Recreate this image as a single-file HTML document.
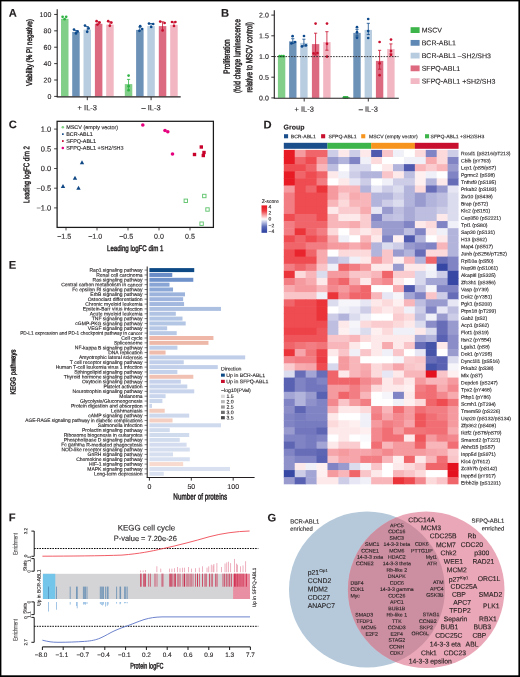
<!DOCTYPE html>
<html><head><meta charset="utf-8"><title>Figure</title>
<style>
html,body{margin:0;padding:0;background:#fff;}
svg{display:block;will-change:transform;}
text{font-family:"Liberation Sans", sans-serif;fill:#231f20;text-rendering:geometricPrecision;stroke:#231f20;stroke-width:0.12px;}
</style></head>
<body>
<svg width="520" height="677" viewBox="0 0 520 677">
<rect x="0" y="0" width="520" height="677" fill="#fff"/>
<text x="8.80" y="16.80" font-size="11.2" text-anchor="start" font-weight="bold" fill="#000" transform="matrix(1 0.001 0 1 0 -0.0088)">A</text>
<rect x="61.00" y="18.80" width="7.50" height="77.60" fill="#82cf89"/>
<rect x="72.20" y="31.90" width="7.50" height="64.50" fill="#6d92b8"/>
<rect x="83.50" y="29.60" width="7.50" height="66.80" fill="#b8cde0"/>
<rect x="94.90" y="23.80" width="7.50" height="72.60" fill="#dc6a80"/>
<rect x="106.20" y="24.60" width="7.50" height="71.80" fill="#f1b6c2"/>
<rect x="124.80" y="84.10" width="7.50" height="12.30" fill="#82cf89"/>
<rect x="136.10" y="29.90" width="7.50" height="66.50" fill="#6d92b8"/>
<rect x="147.30" y="26.10" width="7.50" height="70.30" fill="#b8cde0"/>
<rect x="158.80" y="26.10" width="7.50" height="70.30" fill="#dc6a80"/>
<rect x="170.20" y="24.80" width="7.50" height="71.60" fill="#f1b6c2"/>
<line x1="75.95" y1="30.50" x2="75.95" y2="33.50" stroke="#0d4a8c" stroke-width="0.8"/>
<line x1="74.35" y1="30.50" x2="77.55" y2="30.50" stroke="#0d4a8c" stroke-width="0.8"/>
<line x1="87.25" y1="26.50" x2="87.25" y2="32.00" stroke="#0d4a8c" stroke-width="0.8"/>
<line x1="85.65" y1="26.50" x2="88.85" y2="26.50" stroke="#0d4a8c" stroke-width="0.8"/>
<line x1="98.65" y1="21.80" x2="98.65" y2="25.00" stroke="#c8102e" stroke-width="0.8"/>
<line x1="97.05" y1="21.80" x2="100.25" y2="21.80" stroke="#c8102e" stroke-width="0.8"/>
<line x1="109.95" y1="21.80" x2="109.95" y2="26.00" stroke="#c8102e" stroke-width="0.8"/>
<line x1="108.35" y1="21.80" x2="111.55" y2="21.80" stroke="#c8102e" stroke-width="0.8"/>
<line x1="128.55" y1="79.40" x2="128.55" y2="89.50" stroke="#2fb344" stroke-width="0.8"/>
<line x1="126.95" y1="79.40" x2="130.15" y2="79.40" stroke="#2fb344" stroke-width="0.8"/>
<line x1="139.85" y1="27.00" x2="139.85" y2="31.50" stroke="#0d4a8c" stroke-width="0.8"/>
<line x1="138.25" y1="27.00" x2="141.45" y2="27.00" stroke="#0d4a8c" stroke-width="0.8"/>
<line x1="151.05" y1="23.50" x2="151.05" y2="27.50" stroke="#0d4a8c" stroke-width="0.8"/>
<line x1="149.45" y1="23.50" x2="152.65" y2="23.50" stroke="#0d4a8c" stroke-width="0.8"/>
<line x1="162.55" y1="21.80" x2="162.55" y2="29.50" stroke="#c8102e" stroke-width="0.8"/>
<line x1="160.95" y1="21.80" x2="164.15" y2="21.80" stroke="#c8102e" stroke-width="0.8"/>
<line x1="173.95" y1="22.00" x2="173.95" y2="26.00" stroke="#c8102e" stroke-width="0.8"/>
<line x1="172.35" y1="22.00" x2="175.55" y2="22.00" stroke="#c8102e" stroke-width="0.8"/>
<circle cx="62.60" cy="16.80" r="1.35" fill="#2fb344"/>
<circle cx="66.20" cy="16.80" r="1.35" fill="#2fb344"/>
<circle cx="64.60" cy="19.20" r="1.35" fill="#2fb344"/>
<circle cx="74.00" cy="29.60" r="1.35" fill="#0d4a8c"/>
<circle cx="77.60" cy="31.40" r="1.35" fill="#0d4a8c"/>
<circle cx="76.00" cy="33.40" r="1.35" fill="#0d4a8c"/>
<circle cx="85.00" cy="25.60" r="1.35" fill="#0d4a8c"/>
<circle cx="88.60" cy="28.40" r="1.35" fill="#0d4a8c"/>
<circle cx="87.20" cy="31.80" r="1.35" fill="#0d4a8c"/>
<circle cx="96.60" cy="21.20" r="1.35" fill="#c8102e"/>
<circle cx="99.60" cy="22.60" r="1.35" fill="#c8102e"/>
<circle cx="97.40" cy="24.60" r="1.35" fill="#c8102e"/>
<circle cx="108.20" cy="21.20" r="1.35" fill="#c8102e"/>
<circle cx="111.40" cy="22.60" r="1.35" fill="#c8102e"/>
<circle cx="109.80" cy="25.80" r="1.35" fill="#c8102e"/>
<circle cx="128.60" cy="75.60" r="1.35" fill="#2fb344"/>
<circle cx="128.60" cy="86.20" r="1.35" fill="#2fb344"/>
<circle cx="128.60" cy="90.20" r="1.35" fill="#2fb344"/>
<circle cx="139.40" cy="30.80" r="1.35" fill="#0d4a8c"/>
<circle cx="142.20" cy="29.00" r="1.35" fill="#0d4a8c"/>
<circle cx="140.20" cy="26.20" r="1.35" fill="#0d4a8c"/>
<circle cx="149.00" cy="23.60" r="1.35" fill="#0d4a8c"/>
<circle cx="153.20" cy="24.00" r="1.35" fill="#0d4a8c"/>
<circle cx="151.20" cy="27.00" r="1.35" fill="#0d4a8c"/>
<circle cx="160.20" cy="21.60" r="1.35" fill="#c8102e"/>
<circle cx="164.60" cy="23.00" r="1.35" fill="#c8102e"/>
<circle cx="162.60" cy="30.40" r="1.35" fill="#c8102e"/>
<circle cx="172.00" cy="22.00" r="1.35" fill="#c8102e"/>
<circle cx="175.40" cy="22.00" r="1.35" fill="#c8102e"/>
<circle cx="174.00" cy="26.00" r="1.35" fill="#c8102e"/>
<line x1="57.20" y1="9.20" x2="57.20" y2="96.90" stroke="#231f20" stroke-width="1.1"/>
<line x1="56.70" y1="96.90" x2="180.70" y2="96.90" stroke="#231f20" stroke-width="1.1"/>
<line x1="54.20" y1="96.40" x2="57.20" y2="96.40" stroke="#231f20" stroke-width="0.9"/>
<text x="51.30" y="98.90" font-size="7" text-anchor="end" transform="matrix(1 0.001 0 1 0 -0.0513)">0</text>
<line x1="54.20" y1="80.01" x2="57.20" y2="80.01" stroke="#231f20" stroke-width="0.9"/>
<text x="51.30" y="82.51" font-size="7" text-anchor="end" transform="matrix(1 0.001 0 1 0 -0.0513)">20</text>
<line x1="54.20" y1="63.62" x2="57.20" y2="63.62" stroke="#231f20" stroke-width="0.9"/>
<text x="51.30" y="66.12" font-size="7" text-anchor="end" transform="matrix(1 0.001 0 1 0 -0.0513)">40</text>
<line x1="54.20" y1="47.23" x2="57.20" y2="47.23" stroke="#231f20" stroke-width="0.9"/>
<text x="51.30" y="49.73" font-size="7" text-anchor="end" transform="matrix(1 0.001 0 1 0 -0.0513)">60</text>
<line x1="54.20" y1="30.84" x2="57.20" y2="30.84" stroke="#231f20" stroke-width="0.9"/>
<text x="51.30" y="33.34" font-size="7" text-anchor="end" transform="matrix(1 0.001 0 1 0 -0.0513)">80</text>
<line x1="54.20" y1="14.45" x2="57.20" y2="14.45" stroke="#231f20" stroke-width="0.9"/>
<text x="51.30" y="16.95" font-size="7" text-anchor="end" transform="matrix(1 0.001 0 1 0 -0.0513)">100</text>
<line x1="87.30" y1="96.90" x2="87.30" y2="100.20" stroke="#231f20" stroke-width="0.9"/>
<text x="87.30" y="110.30" font-size="7.5" text-anchor="middle" transform="matrix(1 0.001 0 1 0 -0.0873)">+ IL-3</text>
<line x1="151.10" y1="96.90" x2="151.10" y2="100.20" stroke="#231f20" stroke-width="0.9"/>
<text x="151.10" y="110.30" font-size="7.5" text-anchor="middle" transform="matrix(1 0.001 0 1 0 -0.1511)">– IL-3</text>
<text x="32.10" y="52.50" font-size="8.2" text-anchor="middle" style="stroke-width:0.45px" textLength="66.90" lengthAdjust="spacingAndGlyphs" transform="rotate(-90 32.10 52.50) matrix(1 0.001 0 1 0 -0.0321)">Viability (% PI negative)</text>
<text x="221.00" y="16.80" font-size="11.2" text-anchor="start" font-weight="bold" fill="#000" transform="matrix(1 0.001 0 1 0 -0.2210)">B</text>
<rect x="277.90" y="55.90" width="7.40" height="42.00" fill="#82cf89"/>
<rect x="289.10" y="41.30" width="7.40" height="56.60" fill="#6d92b8"/>
<rect x="300.20" y="42.90" width="7.40" height="55.00" fill="#b8cde0"/>
<rect x="311.90" y="44.10" width="7.40" height="53.80" fill="#dc6a80"/>
<rect x="323.20" y="42.10" width="7.40" height="55.80" fill="#f1b6c2"/>
<rect x="342.70" y="97.00" width="7.40" height="0.90" fill="#82cf89"/>
<rect x="353.30" y="32.90" width="7.40" height="65.00" fill="#6d92b8"/>
<rect x="364.60" y="29.90" width="7.40" height="68.00" fill="#b8cde0"/>
<rect x="375.90" y="60.90" width="7.40" height="37.00" fill="#dc6a80"/>
<rect x="387.20" y="49.00" width="7.40" height="48.90" fill="#f1b6c2"/>
<line x1="292.80" y1="38.70" x2="292.80" y2="43.50" stroke="#0d4a8c" stroke-width="0.8"/>
<line x1="291.20" y1="38.70" x2="294.40" y2="38.70" stroke="#0d4a8c" stroke-width="0.8"/>
<line x1="291.20" y1="43.50" x2="294.40" y2="43.50" stroke="#0d4a8c" stroke-width="0.8"/>
<line x1="303.90" y1="39.20" x2="303.90" y2="46.00" stroke="#0d4a8c" stroke-width="0.8"/>
<line x1="302.30" y1="39.20" x2="305.50" y2="39.20" stroke="#0d4a8c" stroke-width="0.8"/>
<line x1="302.30" y1="46.00" x2="305.50" y2="46.00" stroke="#0d4a8c" stroke-width="0.8"/>
<line x1="315.60" y1="33.20" x2="315.60" y2="55.00" stroke="#c8102e" stroke-width="0.8"/>
<line x1="314.00" y1="33.20" x2="317.20" y2="33.20" stroke="#c8102e" stroke-width="0.8"/>
<line x1="314.00" y1="55.00" x2="317.20" y2="55.00" stroke="#c8102e" stroke-width="0.8"/>
<line x1="326.90" y1="31.70" x2="326.90" y2="50.20" stroke="#c8102e" stroke-width="0.8"/>
<line x1="325.30" y1="31.70" x2="328.50" y2="31.70" stroke="#c8102e" stroke-width="0.8"/>
<line x1="325.30" y1="50.20" x2="328.50" y2="50.20" stroke="#c8102e" stroke-width="0.8"/>
<line x1="357.00" y1="29.30" x2="357.00" y2="36.00" stroke="#0d4a8c" stroke-width="0.8"/>
<line x1="355.40" y1="29.30" x2="358.60" y2="29.30" stroke="#0d4a8c" stroke-width="0.8"/>
<line x1="355.40" y1="36.00" x2="358.60" y2="36.00" stroke="#0d4a8c" stroke-width="0.8"/>
<line x1="368.30" y1="23.30" x2="368.30" y2="34.60" stroke="#0d4a8c" stroke-width="0.8"/>
<line x1="366.70" y1="23.30" x2="369.90" y2="23.30" stroke="#0d4a8c" stroke-width="0.8"/>
<line x1="366.70" y1="34.60" x2="369.90" y2="34.60" stroke="#0d4a8c" stroke-width="0.8"/>
<line x1="379.60" y1="50.30" x2="379.60" y2="69.20" stroke="#c8102e" stroke-width="0.8"/>
<line x1="378.00" y1="50.30" x2="381.20" y2="50.30" stroke="#c8102e" stroke-width="0.8"/>
<line x1="378.00" y1="69.20" x2="381.20" y2="69.20" stroke="#c8102e" stroke-width="0.8"/>
<line x1="390.90" y1="43.90" x2="390.90" y2="53.90" stroke="#c8102e" stroke-width="0.8"/>
<line x1="389.30" y1="43.90" x2="392.50" y2="43.90" stroke="#c8102e" stroke-width="0.8"/>
<line x1="389.30" y1="53.90" x2="392.50" y2="53.90" stroke="#c8102e" stroke-width="0.8"/>
<circle cx="279.60" cy="56.20" r="1.35" fill="#2fb344"/>
<circle cx="281.60" cy="56.20" r="1.35" fill="#2fb344"/>
<circle cx="283.60" cy="56.20" r="1.35" fill="#2fb344"/>
<circle cx="292.60" cy="36.20" r="1.35" fill="#0d4a8c"/>
<circle cx="291.40" cy="43.40" r="1.35" fill="#0d4a8c"/>
<circle cx="295.00" cy="42.00" r="1.35" fill="#0d4a8c"/>
<circle cx="304.00" cy="36.00" r="1.35" fill="#0d4a8c"/>
<circle cx="302.00" cy="46.40" r="1.35" fill="#0d4a8c"/>
<circle cx="306.00" cy="45.40" r="1.35" fill="#0d4a8c"/>
<circle cx="315.60" cy="23.60" r="1.35" fill="#c8102e"/>
<circle cx="313.60" cy="53.40" r="1.35" fill="#c8102e"/>
<circle cx="317.40" cy="53.00" r="1.35" fill="#c8102e"/>
<circle cx="327.00" cy="23.60" r="1.35" fill="#c8102e"/>
<circle cx="327.00" cy="43.80" r="1.35" fill="#c8102e"/>
<circle cx="327.00" cy="56.60" r="1.35" fill="#c8102e"/>
<circle cx="344.00" cy="97.30" r="1.35" fill="#2fb344"/>
<circle cx="345.60" cy="97.30" r="1.35" fill="#2fb344"/>
<circle cx="347.20" cy="97.30" r="1.35" fill="#2fb344"/>
<circle cx="357.00" cy="27.20" r="1.35" fill="#0d4a8c"/>
<circle cx="357.00" cy="32.20" r="1.35" fill="#0d4a8c"/>
<circle cx="357.00" cy="37.80" r="1.35" fill="#0d4a8c"/>
<circle cx="368.20" cy="19.00" r="1.35" fill="#0d4a8c"/>
<circle cx="368.20" cy="31.00" r="1.35" fill="#0d4a8c"/>
<circle cx="368.20" cy="38.00" r="1.35" fill="#0d4a8c"/>
<circle cx="379.60" cy="42.00" r="1.35" fill="#c8102e"/>
<circle cx="379.60" cy="63.40" r="1.35" fill="#c8102e"/>
<circle cx="379.60" cy="75.20" r="1.35" fill="#c8102e"/>
<circle cx="391.00" cy="39.60" r="1.35" fill="#c8102e"/>
<circle cx="391.00" cy="51.00" r="1.35" fill="#c8102e"/>
<circle cx="391.00" cy="55.00" r="1.35" fill="#c8102e"/>
<line x1="274.30" y1="56.60" x2="398.50" y2="56.60" stroke="#231f20" stroke-width="0.9" stroke-dasharray="1.6 1.2"/>
<line x1="274.30" y1="10.20" x2="274.30" y2="98.20" stroke="#231f20" stroke-width="1.1"/>
<line x1="273.80" y1="98.20" x2="398.80" y2="98.20" stroke="#231f20" stroke-width="1.1"/>
<line x1="271.30" y1="97.90" x2="274.30" y2="97.90" stroke="#231f20" stroke-width="0.9"/>
<text x="268.80" y="100.40" font-size="7" text-anchor="end" transform="matrix(1 0.001 0 1 0 -0.2688)">0.0</text>
<line x1="271.30" y1="77.20" x2="274.30" y2="77.20" stroke="#231f20" stroke-width="0.9"/>
<text x="268.80" y="79.70" font-size="7" text-anchor="end" transform="matrix(1 0.001 0 1 0 -0.2688)">0.5</text>
<line x1="271.30" y1="56.50" x2="274.30" y2="56.50" stroke="#231f20" stroke-width="0.9"/>
<text x="268.80" y="59.00" font-size="7" text-anchor="end" transform="matrix(1 0.001 0 1 0 -0.2688)">1.0</text>
<line x1="271.30" y1="35.80" x2="274.30" y2="35.80" stroke="#231f20" stroke-width="0.9"/>
<text x="268.80" y="38.30" font-size="7" text-anchor="end" transform="matrix(1 0.001 0 1 0 -0.2688)">1.5</text>
<line x1="271.30" y1="15.10" x2="274.30" y2="15.10" stroke="#231f20" stroke-width="0.9"/>
<text x="268.80" y="17.60" font-size="7" text-anchor="end" transform="matrix(1 0.001 0 1 0 -0.2688)">2.0</text>
<line x1="304.20" y1="98.20" x2="304.20" y2="101.50" stroke="#231f20" stroke-width="0.9"/>
<text x="304.20" y="111.70" font-size="7.5" text-anchor="middle" transform="matrix(1 0.001 0 1 0 -0.3042)">+ IL-3</text>
<line x1="368.30" y1="98.20" x2="368.30" y2="101.50" stroke="#231f20" stroke-width="0.9"/>
<text x="368.30" y="111.70" font-size="7.5" text-anchor="middle" transform="matrix(1 0.001 0 1 0 -0.3683)">– IL-3</text>
<text x="229.80" y="56.50" font-size="9.0" text-anchor="middle" style="stroke-width:0.45px" textLength="34.30" lengthAdjust="spacingAndGlyphs" transform="rotate(-90 229.80 56.50) matrix(1 0.001 0 1 0 -0.2298)">Proliferation</text>
<text x="240.30" y="56.10" font-size="9.0" text-anchor="middle" style="stroke-width:0.45px" textLength="74.00" lengthAdjust="spacingAndGlyphs" transform="rotate(-90 240.30 56.10) matrix(1 0.001 0 1 0 -0.2403)">(fold change luminescence</text>
<text x="252.20" y="57.30" font-size="9.0" text-anchor="middle" style="stroke-width:0.45px" textLength="70.40" lengthAdjust="spacingAndGlyphs" transform="rotate(-90 252.20 57.30) matrix(1 0.001 0 1 0 -0.2522)">relative to MSCV control)</text>
<rect x="410.60" y="27.20" width="9.00" height="5.80" fill="#3db54a"/>
<text x="421.70" y="32.60" font-size="7.0" text-anchor="start" transform="matrix(1 0.001 0 1 0 -0.4217)">MSCV</text>
<rect x="410.60" y="39.95" width="9.00" height="5.80" fill="#5f89b4"/>
<text x="421.70" y="45.35" font-size="7.0" text-anchor="start" transform="matrix(1 0.001 0 1 0 -0.4217)">BCR-ABL1</text>
<rect x="410.60" y="52.70" width="9.00" height="5.80" fill="#b8cce0"/>
<text x="421.70" y="58.10" font-size="7.0" text-anchor="start" transform="matrix(1 0.001 0 1 0 -0.4217)">BCR-ABL1 –SH2/SH3</text>
<rect x="410.60" y="65.45" width="9.00" height="5.80" fill="#de6a80"/>
<text x="421.70" y="70.85" font-size="7.0" text-anchor="start" transform="matrix(1 0.001 0 1 0 -0.4217)">SFPQ-ABL1</text>
<rect x="410.60" y="78.20" width="9.00" height="5.80" fill="#f2b8c4"/>
<text x="421.70" y="83.60" font-size="7.0" text-anchor="start" transform="matrix(1 0.001 0 1 0 -0.4217)">SFPQ-ABL1 +SH2/SH3</text>
<text x="8.80" y="128.20" font-size="11.2" text-anchor="start" font-weight="bold" fill="#000" transform="matrix(1 0.001 0 1 0 -0.0088)">C</text>
<rect x="57.1" y="121.3" width="156.30" height="106.10" fill="none" stroke="#1a1a1a" stroke-width="1.25"/>
<line x1="54.10" y1="129.10" x2="57.10" y2="129.10" stroke="#231f20" stroke-width="0.8"/>
<text x="51.20" y="131.70" font-size="7.5" text-anchor="end" transform="matrix(1 0.001 0 1 0 -0.0512)">1.0</text>
<line x1="54.10" y1="148.80" x2="57.10" y2="148.80" stroke="#231f20" stroke-width="0.8"/>
<text x="51.20" y="151.40" font-size="7.5" text-anchor="end" transform="matrix(1 0.001 0 1 0 -0.0512)">0.5</text>
<line x1="54.10" y1="168.50" x2="57.10" y2="168.50" stroke="#231f20" stroke-width="0.8"/>
<text x="51.20" y="171.10" font-size="7.5" text-anchor="end" transform="matrix(1 0.001 0 1 0 -0.0512)">0.0</text>
<line x1="54.10" y1="188.20" x2="57.10" y2="188.20" stroke="#231f20" stroke-width="0.8"/>
<text x="51.20" y="190.80" font-size="7.5" text-anchor="end" transform="matrix(1 0.001 0 1 0 -0.0512)">−0.5</text>
<line x1="54.10" y1="207.90" x2="57.10" y2="207.90" stroke="#231f20" stroke-width="0.8"/>
<text x="51.20" y="210.50" font-size="7.5" text-anchor="end" transform="matrix(1 0.001 0 1 0 -0.0512)">−1.0</text>
<line x1="66.00" y1="227.40" x2="66.00" y2="230.40" stroke="#231f20" stroke-width="0.8"/>
<text x="64.20" y="238.80" font-size="7.1" text-anchor="middle" transform="matrix(1 0.001 0 1 0 -0.0642)">−1.5</text>
<line x1="97.00" y1="227.40" x2="97.00" y2="230.40" stroke="#231f20" stroke-width="0.8"/>
<text x="95.20" y="238.80" font-size="7.1" text-anchor="middle" transform="matrix(1 0.001 0 1 0 -0.0952)">−1.0</text>
<line x1="128.00" y1="227.40" x2="128.00" y2="230.40" stroke="#231f20" stroke-width="0.8"/>
<text x="126.20" y="238.80" font-size="7.1" text-anchor="middle" transform="matrix(1 0.001 0 1 0 -0.1262)">−0.5</text>
<line x1="159.00" y1="227.40" x2="159.00" y2="230.40" stroke="#231f20" stroke-width="0.8"/>
<text x="159.00" y="238.80" font-size="7.1" text-anchor="middle" transform="matrix(1 0.001 0 1 0 -0.1590)">0.0</text>
<line x1="190.00" y1="227.40" x2="190.00" y2="230.40" stroke="#231f20" stroke-width="0.8"/>
<text x="190.00" y="238.80" font-size="7.1" text-anchor="middle" transform="matrix(1 0.001 0 1 0 -0.1900)">0.5</text>
<text x="135.20" y="251.10" font-size="8.1" text-anchor="middle" style="stroke-width:0.45px" textLength="56.30" lengthAdjust="spacingAndGlyphs" transform="matrix(1 0.001 0 1 0 -0.1352)">Leading logFC dim 1</text>
<text x="29.30" y="174.50" font-size="8.2" text-anchor="middle" style="stroke-width:0.4px" textLength="56.90" lengthAdjust="spacingAndGlyphs" transform="rotate(-90 29.30 174.50) matrix(1 0.001 0 1 0 -0.0293)">Leading logFC dim 2</text>
<circle cx="62.80" cy="127.20" r="1.25" fill="#7ccf7f"/>
<text x="66.20" y="129.10" font-size="5.45" text-anchor="start" style="stroke-width:0.12px" transform="matrix(1 0.001 0 1 0 -0.0662)">MSCV (empty vector)</text>
<rect x="62.00" y="133.30" width="1.70" height="1.70" fill="#1a4f8b"/>
<text x="66.20" y="136.00" font-size="5.45" text-anchor="start" style="stroke-width:0.12px" transform="matrix(1 0.001 0 1 0 -0.0662)">BCR-ABL1</text>
<rect x="62.00" y="140.20" width="1.70" height="1.70" fill="#c00025"/>
<text x="66.20" y="142.90" font-size="5.45" text-anchor="start" style="stroke-width:0.12px" transform="matrix(1 0.001 0 1 0 -0.0662)">SFPQ-ABL1</text>
<circle cx="62.80" cy="147.90" r="1.25" fill="#e6007e"/>
<text x="66.20" y="149.80" font-size="5.45" text-anchor="start" style="stroke-width:0.12px" transform="matrix(1 0.001 0 1 0 -0.0662)">SFPQ-ABL1 +SH2/SH3</text>
<polygon points="82.00,160.22 79.80,164.18 84.20,164.18" fill="#0f4785"/>
<polygon points="75.00,175.82 72.80,179.78 77.20,179.78" fill="#0f4785"/>
<polygon points="63.00,183.92 60.80,187.88 65.20,187.88" fill="#0f4785"/>
<polygon points="78.50,185.72 76.30,189.68 80.70,189.68" fill="#0f4785"/>
<rect x="199.60" y="145.30" width="3.40" height="3.40" fill="#c8002a"/>
<rect x="192.80" y="152.80" width="3.40" height="3.40" fill="#c8002a"/>
<rect x="202.30" y="150.80" width="3.40" height="3.40" fill="#c8002a"/>
<rect x="201.60" y="153.80" width="3.40" height="3.40" fill="#c8002a"/>
<circle cx="142.80" cy="125.00" r="1.80" fill="#e6007e"/>
<circle cx="165.00" cy="130.50" r="1.80" fill="#e6007e"/>
<circle cx="167.80" cy="131.80" r="1.80" fill="#e6007e"/>
<circle cx="172.50" cy="154.00" r="1.80" fill="#e6007e"/>
<rect x="184.10" y="199.10" width="3.4" height="3.4" fill="none" stroke="#62c46f" stroke-width="0.95"/>
<rect x="202.60" y="194.30" width="3.4" height="3.4" fill="none" stroke="#62c46f" stroke-width="0.95"/>
<rect x="205.80" y="207.80" width="3.4" height="3.4" fill="none" stroke="#62c46f" stroke-width="0.95"/>
<rect x="199.90" y="222.00" width="3.4" height="3.4" fill="none" stroke="#62c46f" stroke-width="0.95"/>
<text x="263.60" y="128.60" font-size="11.2" text-anchor="start" font-weight="bold" fill="#000" transform="matrix(1 0.001 0 1 0 -0.2636)">D</text>
<text x="283.60" y="129.60" font-size="7.0" text-anchor="start" font-weight="bold" fill="#000" transform="matrix(1 0.001 0 1 0 -0.2836)">Group</text>
<rect x="284.00" y="134.20" width="4.10" height="4.10" fill="#1b4f8c"/>
<text x="290.80" y="138.20" font-size="5.1" text-anchor="start" style="stroke-width:0.12px" transform="matrix(1 0.001 0 1 0 -0.2908)">BCR-ABL1</text>
<rect x="321.10" y="134.20" width="4.10" height="4.10" fill="#c8102e"/>
<text x="328.50" y="138.20" font-size="5.1" text-anchor="start" style="stroke-width:0.12px" transform="matrix(1 0.001 0 1 0 -0.3285)">SFPQ-ABL1</text>
<rect x="361.20" y="134.20" width="4.10" height="4.10" fill="#f7941d"/>
<text x="368.90" y="138.20" font-size="5.1" text-anchor="start" style="stroke-width:0.12px" transform="matrix(1 0.001 0 1 0 -0.3689)">MSCV (empty vector)</text>
<rect x="425.00" y="134.20" width="4.10" height="4.10" fill="#3db54a"/>
<text x="430.60" y="138.20" font-size="5.1" text-anchor="start" style="stroke-width:0.12px" transform="matrix(1 0.001 0 1 0 -0.4306)">SFPQ-ABL1 +SH2/SH3</text>
<rect x="283.80" y="142.80" width="43.73" height="6.00" fill="#1b4f8c"/>
<rect x="327.48" y="142.80" width="43.73" height="6.00" fill="#3db54a"/>
<rect x="371.16" y="142.80" width="43.73" height="6.00" fill="#f7941d"/>
<rect x="414.84" y="142.80" width="43.73" height="6.00" fill="#c8102e"/>
<rect x="283.80" y="149.90" width="11.42" height="7.62" fill="#e81a24"/>
<rect x="294.72" y="149.90" width="11.42" height="7.62" fill="#f59a9e"/>
<rect x="305.64" y="149.90" width="11.42" height="7.62" fill="#f0656a"/>
<rect x="316.56" y="149.90" width="11.42" height="7.62" fill="#f0656a"/>
<rect x="327.48" y="149.90" width="11.42" height="7.62" fill="#cdcde8"/>
<rect x="338.40" y="149.90" width="11.42" height="7.62" fill="#fde9ea"/>
<rect x="349.32" y="149.90" width="11.42" height="7.62" fill="#cdcde8"/>
<rect x="360.24" y="149.90" width="11.42" height="7.62" fill="#fde9ea"/>
<rect x="371.16" y="149.90" width="11.42" height="7.62" fill="#4f5aae"/>
<rect x="382.08" y="149.90" width="11.42" height="7.62" fill="#f9c5c8"/>
<rect x="393.00" y="149.90" width="11.42" height="7.62" fill="#f0f0f8"/>
<rect x="403.92" y="149.90" width="11.42" height="7.62" fill="#ffffff"/>
<rect x="414.84" y="149.90" width="11.42" height="7.62" fill="#fcdadc"/>
<rect x="425.76" y="149.90" width="11.42" height="7.62" fill="#8084c4"/>
<rect x="436.68" y="149.90" width="11.42" height="7.62" fill="#fcdadc"/>
<rect x="447.60" y="149.90" width="10.92" height="7.62" fill="#cdcde8"/>
<rect x="283.80" y="157.02" width="11.42" height="7.62" fill="#e81a24"/>
<rect x="294.72" y="157.02" width="11.42" height="7.62" fill="#f0656a"/>
<rect x="305.64" y="157.02" width="11.42" height="7.62" fill="#ee4c51"/>
<rect x="316.56" y="157.02" width="11.42" height="7.62" fill="#f59a9e"/>
<rect x="327.48" y="157.02" width="11.42" height="7.62" fill="#999bcf"/>
<rect x="338.40" y="157.02" width="11.42" height="7.62" fill="#b3b4dc"/>
<rect x="349.32" y="157.02" width="11.42" height="7.62" fill="#8084c4"/>
<rect x="360.24" y="157.02" width="11.42" height="7.62" fill="#f0f0f8"/>
<rect x="371.16" y="157.02" width="11.42" height="7.62" fill="#fcdadc"/>
<rect x="382.08" y="157.02" width="11.42" height="7.62" fill="#ffffff"/>
<rect x="393.00" y="157.02" width="11.42" height="7.62" fill="#ffffff"/>
<rect x="403.92" y="157.02" width="11.42" height="7.62" fill="#f0f0f8"/>
<rect x="414.84" y="157.02" width="11.42" height="7.62" fill="#f0f0f8"/>
<rect x="425.76" y="157.02" width="11.42" height="7.62" fill="#f7abaf"/>
<rect x="436.68" y="157.02" width="11.42" height="7.62" fill="#fcdadc"/>
<rect x="447.60" y="157.02" width="10.92" height="7.62" fill="#8084c4"/>
<rect x="283.80" y="164.13" width="11.42" height="7.62" fill="#ee4c51"/>
<rect x="294.72" y="164.13" width="11.42" height="7.62" fill="#ee4c51"/>
<rect x="305.64" y="164.13" width="11.42" height="7.62" fill="#f0656a"/>
<rect x="316.56" y="164.13" width="11.42" height="7.62" fill="#f8b6ba"/>
<rect x="327.48" y="164.13" width="11.42" height="7.62" fill="#bdbee0"/>
<rect x="338.40" y="164.13" width="11.42" height="7.62" fill="#ffffff"/>
<rect x="349.32" y="164.13" width="11.42" height="7.62" fill="#d7d7ed"/>
<rect x="360.24" y="164.13" width="11.42" height="7.62" fill="#d7d7ed"/>
<rect x="371.16" y="164.13" width="11.42" height="7.62" fill="#ffffff"/>
<rect x="382.08" y="164.13" width="11.42" height="7.62" fill="#fde9ea"/>
<rect x="393.00" y="164.13" width="11.42" height="7.62" fill="#b3b4dc"/>
<rect x="403.92" y="164.13" width="11.42" height="7.62" fill="#4f5aae"/>
<rect x="414.84" y="164.13" width="11.42" height="7.62" fill="#f8b6ba"/>
<rect x="425.76" y="164.13" width="11.42" height="7.62" fill="#facccf"/>
<rect x="436.68" y="164.13" width="11.42" height="7.62" fill="#f8b6ba"/>
<rect x="447.60" y="164.13" width="10.92" height="7.62" fill="#999bcf"/>
<rect x="283.80" y="171.25" width="11.42" height="7.62" fill="#e81a24"/>
<rect x="294.72" y="171.25" width="11.42" height="7.62" fill="#f0656a"/>
<rect x="305.64" y="171.25" width="11.42" height="7.62" fill="#ee4c51"/>
<rect x="316.56" y="171.25" width="11.42" height="7.62" fill="#f0656a"/>
<rect x="327.48" y="171.25" width="11.42" height="7.62" fill="#fde9ea"/>
<rect x="338.40" y="171.25" width="11.42" height="7.62" fill="#f0f0f8"/>
<rect x="349.32" y="171.25" width="11.42" height="7.62" fill="#cdcde8"/>
<rect x="360.24" y="171.25" width="11.42" height="7.62" fill="#b3b4dc"/>
<rect x="371.16" y="171.25" width="11.42" height="7.62" fill="#b3b4dc"/>
<rect x="382.08" y="171.25" width="11.42" height="7.62" fill="#f9c5c8"/>
<rect x="393.00" y="171.25" width="11.42" height="7.62" fill="#fde9ea"/>
<rect x="403.92" y="171.25" width="11.42" height="7.62" fill="#bdbee0"/>
<rect x="414.84" y="171.25" width="11.42" height="7.62" fill="#fef0f1"/>
<rect x="425.76" y="171.25" width="11.42" height="7.62" fill="#f0f0f8"/>
<rect x="436.68" y="171.25" width="11.42" height="7.62" fill="#ffffff"/>
<rect x="447.60" y="171.25" width="10.92" height="7.62" fill="#8084c4"/>
<rect x="283.80" y="178.36" width="11.42" height="7.62" fill="#e81a24"/>
<rect x="294.72" y="178.36" width="11.42" height="7.62" fill="#ee4c51"/>
<rect x="305.64" y="178.36" width="11.42" height="7.62" fill="#ee4c51"/>
<rect x="316.56" y="178.36" width="11.42" height="7.62" fill="#f27e83"/>
<rect x="327.48" y="178.36" width="11.42" height="7.62" fill="#ffffff"/>
<rect x="338.40" y="178.36" width="11.42" height="7.62" fill="#fde9ea"/>
<rect x="349.32" y="178.36" width="11.42" height="7.62" fill="#e6e6f4"/>
<rect x="360.24" y="178.36" width="11.42" height="7.62" fill="#cdcde8"/>
<rect x="371.16" y="178.36" width="11.42" height="7.62" fill="#ffffff"/>
<rect x="382.08" y="178.36" width="11.42" height="7.62" fill="#f0f0f8"/>
<rect x="393.00" y="178.36" width="11.42" height="7.62" fill="#cdcde8"/>
<rect x="403.92" y="178.36" width="11.42" height="7.62" fill="#cdcde8"/>
<rect x="414.84" y="178.36" width="11.42" height="7.62" fill="#fef0f1"/>
<rect x="425.76" y="178.36" width="11.42" height="7.62" fill="#b3b4dc"/>
<rect x="436.68" y="178.36" width="11.42" height="7.62" fill="#fde9ea"/>
<rect x="447.60" y="178.36" width="10.92" height="7.62" fill="#686db8"/>
<rect x="283.80" y="185.48" width="11.42" height="7.62" fill="#f59a9e"/>
<rect x="294.72" y="185.48" width="11.42" height="7.62" fill="#ee4c51"/>
<rect x="305.64" y="185.48" width="11.42" height="7.62" fill="#f0656a"/>
<rect x="316.56" y="185.48" width="11.42" height="7.62" fill="#eb333a"/>
<rect x="327.48" y="185.48" width="11.42" height="7.62" fill="#f59a9e"/>
<rect x="338.40" y="185.48" width="11.42" height="7.62" fill="#f8b6ba"/>
<rect x="349.32" y="185.48" width="11.42" height="7.62" fill="#f8b6ba"/>
<rect x="360.24" y="185.48" width="11.42" height="7.62" fill="#b3b4dc"/>
<rect x="371.16" y="185.48" width="11.42" height="7.62" fill="#e6e6f4"/>
<rect x="382.08" y="185.48" width="11.42" height="7.62" fill="#cdcde8"/>
<rect x="393.00" y="185.48" width="11.42" height="7.62" fill="#dcdcef"/>
<rect x="403.92" y="185.48" width="11.42" height="7.62" fill="#b3b4dc"/>
<rect x="414.84" y="185.48" width="11.42" height="7.62" fill="#fcdadc"/>
<rect x="425.76" y="185.48" width="11.42" height="7.62" fill="#686db8"/>
<rect x="436.68" y="185.48" width="11.42" height="7.62" fill="#999bcf"/>
<rect x="447.60" y="185.48" width="10.92" height="7.62" fill="#e6e6f4"/>
<rect x="283.80" y="192.59" width="11.42" height="7.62" fill="#f27e83"/>
<rect x="294.72" y="192.59" width="11.42" height="7.62" fill="#ee4c51"/>
<rect x="305.64" y="192.59" width="11.42" height="7.62" fill="#ee4c51"/>
<rect x="316.56" y="192.59" width="11.42" height="7.62" fill="#ee4c51"/>
<rect x="327.48" y="192.59" width="11.42" height="7.62" fill="#f59a9e"/>
<rect x="338.40" y="192.59" width="11.42" height="7.62" fill="#facccf"/>
<rect x="349.32" y="192.59" width="11.42" height="7.62" fill="#f7abaf"/>
<rect x="360.24" y="192.59" width="11.42" height="7.62" fill="#f8b6ba"/>
<rect x="371.16" y="192.59" width="11.42" height="7.62" fill="#b3b4dc"/>
<rect x="382.08" y="192.59" width="11.42" height="7.62" fill="#b3b4dc"/>
<rect x="393.00" y="192.59" width="11.42" height="7.62" fill="#cdcde8"/>
<rect x="403.92" y="192.59" width="11.42" height="7.62" fill="#b3b4dc"/>
<rect x="414.84" y="192.59" width="11.42" height="7.62" fill="#999bcf"/>
<rect x="425.76" y="192.59" width="11.42" height="7.62" fill="#b3b4dc"/>
<rect x="436.68" y="192.59" width="11.42" height="7.62" fill="#bdbee0"/>
<rect x="447.60" y="192.59" width="10.92" height="7.62" fill="#dcdcef"/>
<rect x="283.80" y="199.71" width="11.42" height="7.62" fill="#f27e83"/>
<rect x="294.72" y="199.71" width="11.42" height="7.62" fill="#ee4c51"/>
<rect x="305.64" y="199.71" width="11.42" height="7.62" fill="#ee4c51"/>
<rect x="316.56" y="199.71" width="11.42" height="7.62" fill="#ee4c51"/>
<rect x="327.48" y="199.71" width="11.42" height="7.62" fill="#f8b6ba"/>
<rect x="338.40" y="199.71" width="11.42" height="7.62" fill="#fcdadc"/>
<rect x="349.32" y="199.71" width="11.42" height="7.62" fill="#f8b6ba"/>
<rect x="360.24" y="199.71" width="11.42" height="7.62" fill="#f8b6ba"/>
<rect x="371.16" y="199.71" width="11.42" height="7.62" fill="#b3b4dc"/>
<rect x="382.08" y="199.71" width="11.42" height="7.62" fill="#cdcde8"/>
<rect x="393.00" y="199.71" width="11.42" height="7.62" fill="#dcdcef"/>
<rect x="403.92" y="199.71" width="11.42" height="7.62" fill="#b3b4dc"/>
<rect x="414.84" y="199.71" width="11.42" height="7.62" fill="#999bcf"/>
<rect x="425.76" y="199.71" width="11.42" height="7.62" fill="#b3b4dc"/>
<rect x="436.68" y="199.71" width="11.42" height="7.62" fill="#bdbee0"/>
<rect x="447.60" y="199.71" width="10.92" height="7.62" fill="#dcdcef"/>
<rect x="283.80" y="206.82" width="11.42" height="7.62" fill="#f27e83"/>
<rect x="294.72" y="206.82" width="11.42" height="7.62" fill="#ee4c51"/>
<rect x="305.64" y="206.82" width="11.42" height="7.62" fill="#ee4c51"/>
<rect x="316.56" y="206.82" width="11.42" height="7.62" fill="#ee4c51"/>
<rect x="327.48" y="206.82" width="11.42" height="7.62" fill="#fde9ea"/>
<rect x="338.40" y="206.82" width="11.42" height="7.62" fill="#facccf"/>
<rect x="349.32" y="206.82" width="11.42" height="7.62" fill="#facccf"/>
<rect x="360.24" y="206.82" width="11.42" height="7.62" fill="#f7abaf"/>
<rect x="371.16" y="206.82" width="11.42" height="7.62" fill="#e6e6f4"/>
<rect x="382.08" y="206.82" width="11.42" height="7.62" fill="#999bcf"/>
<rect x="393.00" y="206.82" width="11.42" height="7.62" fill="#bdbee0"/>
<rect x="403.92" y="206.82" width="11.42" height="7.62" fill="#a9aad6"/>
<rect x="414.84" y="206.82" width="11.42" height="7.62" fill="#bdbee0"/>
<rect x="425.76" y="206.82" width="11.42" height="7.62" fill="#bdbee0"/>
<rect x="436.68" y="206.82" width="11.42" height="7.62" fill="#cdcde8"/>
<rect x="447.60" y="206.82" width="10.92" height="7.62" fill="#dcdcef"/>
<rect x="283.80" y="213.94" width="11.42" height="7.62" fill="#ee4c51"/>
<rect x="294.72" y="213.94" width="11.42" height="7.62" fill="#f0656a"/>
<rect x="305.64" y="213.94" width="11.42" height="7.62" fill="#f0656a"/>
<rect x="316.56" y="213.94" width="11.42" height="7.62" fill="#ee4c51"/>
<rect x="327.48" y="213.94" width="11.42" height="7.62" fill="#f8b6ba"/>
<rect x="338.40" y="213.94" width="11.42" height="7.62" fill="#fde9ea"/>
<rect x="349.32" y="213.94" width="11.42" height="7.62" fill="#fde9ea"/>
<rect x="360.24" y="213.94" width="11.42" height="7.62" fill="#facccf"/>
<rect x="371.16" y="213.94" width="11.42" height="7.62" fill="#8084c4"/>
<rect x="382.08" y="213.94" width="11.42" height="7.62" fill="#bdbee0"/>
<rect x="393.00" y="213.94" width="11.42" height="7.62" fill="#c3c3e3"/>
<rect x="403.92" y="213.94" width="11.42" height="7.62" fill="#a9aad6"/>
<rect x="414.84" y="213.94" width="11.42" height="7.62" fill="#bdbee0"/>
<rect x="425.76" y="213.94" width="11.42" height="7.62" fill="#bdbee0"/>
<rect x="436.68" y="213.94" width="11.42" height="7.62" fill="#fde9ea"/>
<rect x="447.60" y="213.94" width="10.92" height="7.62" fill="#dcdcef"/>
<rect x="283.80" y="221.05" width="11.42" height="7.62" fill="#f27e83"/>
<rect x="294.72" y="221.05" width="11.42" height="7.62" fill="#f0656a"/>
<rect x="305.64" y="221.05" width="11.42" height="7.62" fill="#f0656a"/>
<rect x="316.56" y="221.05" width="11.42" height="7.62" fill="#f0656a"/>
<rect x="327.48" y="221.05" width="11.42" height="7.62" fill="#f8b6ba"/>
<rect x="338.40" y="221.05" width="11.42" height="7.62" fill="#f8b6ba"/>
<rect x="349.32" y="221.05" width="11.42" height="7.62" fill="#f7abaf"/>
<rect x="360.24" y="221.05" width="11.42" height="7.62" fill="#facccf"/>
<rect x="371.16" y="221.05" width="11.42" height="7.62" fill="#999bcf"/>
<rect x="382.08" y="221.05" width="11.42" height="7.62" fill="#999bcf"/>
<rect x="393.00" y="221.05" width="11.42" height="7.62" fill="#999bcf"/>
<rect x="403.92" y="221.05" width="11.42" height="7.62" fill="#8084c4"/>
<rect x="414.84" y="221.05" width="11.42" height="7.62" fill="#fde9ea"/>
<rect x="425.76" y="221.05" width="11.42" height="7.62" fill="#fcdadc"/>
<rect x="436.68" y="221.05" width="11.42" height="7.62" fill="#8084c4"/>
<rect x="447.60" y="221.05" width="10.92" height="7.62" fill="#f0f0f8"/>
<rect x="283.80" y="228.17" width="11.42" height="7.62" fill="#f27e83"/>
<rect x="294.72" y="228.17" width="11.42" height="7.62" fill="#eb333a"/>
<rect x="305.64" y="228.17" width="11.42" height="7.62" fill="#f0656a"/>
<rect x="316.56" y="228.17" width="11.42" height="7.62" fill="#f27e83"/>
<rect x="327.48" y="228.17" width="11.42" height="7.62" fill="#fcdadc"/>
<rect x="338.40" y="228.17" width="11.42" height="7.62" fill="#ffffff"/>
<rect x="349.32" y="228.17" width="11.42" height="7.62" fill="#fcdadc"/>
<rect x="360.24" y="228.17" width="11.42" height="7.62" fill="#fde9ea"/>
<rect x="371.16" y="228.17" width="11.42" height="7.62" fill="#fcdadc"/>
<rect x="382.08" y="228.17" width="11.42" height="7.62" fill="#999bcf"/>
<rect x="393.00" y="228.17" width="11.42" height="7.62" fill="#999bcf"/>
<rect x="403.92" y="228.17" width="11.42" height="7.62" fill="#bdbee0"/>
<rect x="414.84" y="228.17" width="11.42" height="7.62" fill="#8084c4"/>
<rect x="425.76" y="228.17" width="11.42" height="7.62" fill="#fde9ea"/>
<rect x="436.68" y="228.17" width="11.42" height="7.62" fill="#f0f0f8"/>
<rect x="447.60" y="228.17" width="10.92" height="7.62" fill="#b3b4dc"/>
<rect x="283.80" y="235.28" width="11.42" height="7.62" fill="#ee4c51"/>
<rect x="294.72" y="235.28" width="11.42" height="7.62" fill="#f0656a"/>
<rect x="305.64" y="235.28" width="11.42" height="7.62" fill="#ee4c51"/>
<rect x="316.56" y="235.28" width="11.42" height="7.62" fill="#f0656a"/>
<rect x="327.48" y="235.28" width="11.42" height="7.62" fill="#f7abaf"/>
<rect x="338.40" y="235.28" width="11.42" height="7.62" fill="#f0f0f8"/>
<rect x="349.32" y="235.28" width="11.42" height="7.62" fill="#ffffff"/>
<rect x="360.24" y="235.28" width="11.42" height="7.62" fill="#f8b6ba"/>
<rect x="371.16" y="235.28" width="11.42" height="7.62" fill="#fde9ea"/>
<rect x="382.08" y="235.28" width="11.42" height="7.62" fill="#8084c4"/>
<rect x="393.00" y="235.28" width="11.42" height="7.62" fill="#fef0f1"/>
<rect x="403.92" y="235.28" width="11.42" height="7.62" fill="#4f5aae"/>
<rect x="414.84" y="235.28" width="11.42" height="7.62" fill="#b3b4dc"/>
<rect x="425.76" y="235.28" width="11.42" height="7.62" fill="#ffffff"/>
<rect x="436.68" y="235.28" width="11.42" height="7.62" fill="#fde9ea"/>
<rect x="447.60" y="235.28" width="10.92" height="7.62" fill="#b3b4dc"/>
<rect x="283.80" y="242.40" width="11.42" height="7.62" fill="#f0656a"/>
<rect x="294.72" y="242.40" width="11.42" height="7.62" fill="#f0656a"/>
<rect x="305.64" y="242.40" width="11.42" height="7.62" fill="#f27e83"/>
<rect x="316.56" y="242.40" width="11.42" height="7.62" fill="#f27e83"/>
<rect x="327.48" y="242.40" width="11.42" height="7.62" fill="#f59a9e"/>
<rect x="338.40" y="242.40" width="11.42" height="7.62" fill="#f59a9e"/>
<rect x="349.32" y="242.40" width="11.42" height="7.62" fill="#f7abaf"/>
<rect x="360.24" y="242.40" width="11.42" height="7.62" fill="#f59a9e"/>
<rect x="371.16" y="242.40" width="11.42" height="7.62" fill="#b3b4dc"/>
<rect x="382.08" y="242.40" width="11.42" height="7.62" fill="#dcdcef"/>
<rect x="393.00" y="242.40" width="11.42" height="7.62" fill="#cdcde8"/>
<rect x="403.92" y="242.40" width="11.42" height="7.62" fill="#999bcf"/>
<rect x="414.84" y="242.40" width="11.42" height="7.62" fill="#8a8dc8"/>
<rect x="425.76" y="242.40" width="11.42" height="7.62" fill="#8084c4"/>
<rect x="436.68" y="242.40" width="11.42" height="7.62" fill="#f8b6ba"/>
<rect x="447.60" y="242.40" width="10.92" height="7.62" fill="#b3b4dc"/>
<rect x="283.80" y="249.51" width="11.42" height="7.62" fill="#ee4c51"/>
<rect x="294.72" y="249.51" width="11.42" height="7.62" fill="#e9242d"/>
<rect x="305.64" y="249.51" width="11.42" height="7.62" fill="#f0656a"/>
<rect x="316.56" y="249.51" width="11.42" height="7.62" fill="#f7abaf"/>
<rect x="327.48" y="249.51" width="11.42" height="7.62" fill="#ffffff"/>
<rect x="338.40" y="249.51" width="11.42" height="7.62" fill="#fcdadc"/>
<rect x="349.32" y="249.51" width="11.42" height="7.62" fill="#fcdadc"/>
<rect x="360.24" y="249.51" width="11.42" height="7.62" fill="#fcdadc"/>
<rect x="371.16" y="249.51" width="11.42" height="7.62" fill="#b3b4dc"/>
<rect x="382.08" y="249.51" width="11.42" height="7.62" fill="#f9c5c8"/>
<rect x="393.00" y="249.51" width="11.42" height="7.62" fill="#999bcf"/>
<rect x="403.92" y="249.51" width="11.42" height="7.62" fill="#b3b4dc"/>
<rect x="414.84" y="249.51" width="11.42" height="7.62" fill="#686db8"/>
<rect x="425.76" y="249.51" width="11.42" height="7.62" fill="#fcdadc"/>
<rect x="436.68" y="249.51" width="11.42" height="7.62" fill="#fcdadc"/>
<rect x="447.60" y="249.51" width="10.92" height="7.62" fill="#b3b4dc"/>
<rect x="283.80" y="256.62" width="11.42" height="7.62" fill="#ee4c51"/>
<rect x="294.72" y="256.62" width="11.42" height="7.62" fill="#ee4c51"/>
<rect x="305.64" y="256.62" width="11.42" height="7.62" fill="#ee4c51"/>
<rect x="316.56" y="256.62" width="11.42" height="7.62" fill="#f7abaf"/>
<rect x="327.48" y="256.62" width="11.42" height="7.62" fill="#bdbee0"/>
<rect x="338.40" y="256.62" width="11.42" height="7.62" fill="#cdcde8"/>
<rect x="349.32" y="256.62" width="11.42" height="7.62" fill="#f0f0f8"/>
<rect x="360.24" y="256.62" width="11.42" height="7.62" fill="#fde9ea"/>
<rect x="371.16" y="256.62" width="11.42" height="7.62" fill="#f59a9e"/>
<rect x="382.08" y="256.62" width="11.42" height="7.62" fill="#f9c5c8"/>
<rect x="393.00" y="256.62" width="11.42" height="7.62" fill="#fef0f1"/>
<rect x="403.92" y="256.62" width="11.42" height="7.62" fill="#f8b6ba"/>
<rect x="414.84" y="256.62" width="11.42" height="7.62" fill="#b3b4dc"/>
<rect x="425.76" y="256.62" width="11.42" height="7.62" fill="#f0656a"/>
<rect x="436.68" y="256.62" width="11.42" height="7.62" fill="#686db8"/>
<rect x="447.60" y="256.62" width="10.92" height="7.62" fill="#8084c4"/>
<rect x="283.80" y="263.74" width="11.42" height="7.62" fill="#f27e83"/>
<rect x="294.72" y="263.74" width="11.42" height="7.62" fill="#f0656a"/>
<rect x="305.64" y="263.74" width="11.42" height="7.62" fill="#f27e83"/>
<rect x="316.56" y="263.74" width="11.42" height="7.62" fill="#f9c5c8"/>
<rect x="327.48" y="263.74" width="11.42" height="7.62" fill="#f0f0f8"/>
<rect x="338.40" y="263.74" width="11.42" height="7.62" fill="#f0656a"/>
<rect x="349.32" y="263.74" width="11.42" height="7.62" fill="#f27e83"/>
<rect x="360.24" y="263.74" width="11.42" height="7.62" fill="#f59a9e"/>
<rect x="371.16" y="263.74" width="11.42" height="7.62" fill="#fde9ea"/>
<rect x="382.08" y="263.74" width="11.42" height="7.62" fill="#fde9ea"/>
<rect x="393.00" y="263.74" width="11.42" height="7.62" fill="#999bcf"/>
<rect x="403.92" y="263.74" width="11.42" height="7.62" fill="#fde9ea"/>
<rect x="414.84" y="263.74" width="11.42" height="7.62" fill="#fde9ea"/>
<rect x="425.76" y="263.74" width="11.42" height="7.62" fill="#f5f5fa"/>
<rect x="436.68" y="263.74" width="11.42" height="7.62" fill="#3648a3"/>
<rect x="447.60" y="263.74" width="10.92" height="7.62" fill="#8084c4"/>
<rect x="283.80" y="270.86" width="11.42" height="7.62" fill="#eb333a"/>
<rect x="294.72" y="270.86" width="11.42" height="7.62" fill="#fcdadc"/>
<rect x="305.64" y="270.86" width="11.42" height="7.62" fill="#f8b6ba"/>
<rect x="316.56" y="270.86" width="11.42" height="7.62" fill="#dcdcef"/>
<rect x="327.48" y="270.86" width="11.42" height="7.62" fill="#f59a9e"/>
<rect x="338.40" y="270.86" width="11.42" height="7.62" fill="#f59a9e"/>
<rect x="349.32" y="270.86" width="11.42" height="7.62" fill="#f9c5c8"/>
<rect x="360.24" y="270.86" width="11.42" height="7.62" fill="#f9c5c8"/>
<rect x="371.16" y="270.86" width="11.42" height="7.62" fill="#f8b6ba"/>
<rect x="382.08" y="270.86" width="11.42" height="7.62" fill="#f0656a"/>
<rect x="393.00" y="270.86" width="11.42" height="7.62" fill="#facccf"/>
<rect x="403.92" y="270.86" width="11.42" height="7.62" fill="#facccf"/>
<rect x="414.84" y="270.86" width="11.42" height="7.62" fill="#d7d7ed"/>
<rect x="425.76" y="270.86" width="11.42" height="7.62" fill="#f0f0f8"/>
<rect x="436.68" y="270.86" width="11.42" height="7.62" fill="#cdcde8"/>
<rect x="447.60" y="270.86" width="10.92" height="7.62" fill="#3648a3"/>
<rect x="283.80" y="277.97" width="11.42" height="7.62" fill="#f27e83"/>
<rect x="294.72" y="277.97" width="11.42" height="7.62" fill="#f59a9e"/>
<rect x="305.64" y="277.97" width="11.42" height="7.62" fill="#f7abaf"/>
<rect x="316.56" y="277.97" width="11.42" height="7.62" fill="#fde9ea"/>
<rect x="327.48" y="277.97" width="11.42" height="7.62" fill="#f27e83"/>
<rect x="338.40" y="277.97" width="11.42" height="7.62" fill="#f0656a"/>
<rect x="349.32" y="277.97" width="11.42" height="7.62" fill="#f7abaf"/>
<rect x="360.24" y="277.97" width="11.42" height="7.62" fill="#fde9ea"/>
<rect x="371.16" y="277.97" width="11.42" height="7.62" fill="#f59a9e"/>
<rect x="382.08" y="277.97" width="11.42" height="7.62" fill="#f3898e"/>
<rect x="393.00" y="277.97" width="11.42" height="7.62" fill="#fde9ea"/>
<rect x="403.92" y="277.97" width="11.42" height="7.62" fill="#ffffff"/>
<rect x="414.84" y="277.97" width="11.42" height="7.62" fill="#d7d7ed"/>
<rect x="425.76" y="277.97" width="11.42" height="7.62" fill="#a3a5d4"/>
<rect x="436.68" y="277.97" width="11.42" height="7.62" fill="#a3a5d4"/>
<rect x="447.60" y="277.97" width="10.92" height="7.62" fill="#3648a3"/>
<rect x="283.80" y="285.09" width="11.42" height="7.62" fill="#f7abaf"/>
<rect x="294.72" y="285.09" width="11.42" height="7.62" fill="#f59a9e"/>
<rect x="305.64" y="285.09" width="11.42" height="7.62" fill="#f59a9e"/>
<rect x="316.56" y="285.09" width="11.42" height="7.62" fill="#f8b6ba"/>
<rect x="327.48" y="285.09" width="11.42" height="7.62" fill="#f3898e"/>
<rect x="338.40" y="285.09" width="11.42" height="7.62" fill="#f59a9e"/>
<rect x="349.32" y="285.09" width="11.42" height="7.62" fill="#f27e83"/>
<rect x="360.24" y="285.09" width="11.42" height="7.62" fill="#f0656a"/>
<rect x="371.16" y="285.09" width="11.42" height="7.62" fill="#ffffff"/>
<rect x="382.08" y="285.09" width="11.42" height="7.62" fill="#ffffff"/>
<rect x="393.00" y="285.09" width="11.42" height="7.62" fill="#f7abaf"/>
<rect x="403.92" y="285.09" width="11.42" height="7.62" fill="#4f5aae"/>
<rect x="414.84" y="285.09" width="11.42" height="7.62" fill="#bdbee0"/>
<rect x="425.76" y="285.09" width="11.42" height="7.62" fill="#f5f5fa"/>
<rect x="436.68" y="285.09" width="11.42" height="7.62" fill="#8084c4"/>
<rect x="447.60" y="285.09" width="10.92" height="7.62" fill="#8084c4"/>
<rect x="283.80" y="292.20" width="11.42" height="7.62" fill="#f9c5c8"/>
<rect x="294.72" y="292.20" width="11.42" height="7.62" fill="#f9c5c8"/>
<rect x="305.64" y="292.20" width="11.42" height="7.62" fill="#f9c5c8"/>
<rect x="316.56" y="292.20" width="11.42" height="7.62" fill="#f0f0f8"/>
<rect x="327.48" y="292.20" width="11.42" height="7.62" fill="#eb333a"/>
<rect x="338.40" y="292.20" width="11.42" height="7.62" fill="#f3898e"/>
<rect x="349.32" y="292.20" width="11.42" height="7.62" fill="#f0656a"/>
<rect x="360.24" y="292.20" width="11.42" height="7.62" fill="#f0656a"/>
<rect x="371.16" y="292.20" width="11.42" height="7.62" fill="#f8b6ba"/>
<rect x="382.08" y="292.20" width="11.42" height="7.62" fill="#e6e6f4"/>
<rect x="393.00" y="292.20" width="11.42" height="7.62" fill="#f5f5fa"/>
<rect x="403.92" y="292.20" width="11.42" height="7.62" fill="#a3a5d4"/>
<rect x="414.84" y="292.20" width="11.42" height="7.62" fill="#8084c4"/>
<rect x="425.76" y="292.20" width="11.42" height="7.62" fill="#f9c5c8"/>
<rect x="436.68" y="292.20" width="11.42" height="7.62" fill="#cdcde8"/>
<rect x="447.60" y="292.20" width="10.92" height="7.62" fill="#686db8"/>
<rect x="283.80" y="299.31" width="11.42" height="7.62" fill="#f0656a"/>
<rect x="294.72" y="299.31" width="11.42" height="7.62" fill="#ee4c51"/>
<rect x="305.64" y="299.31" width="11.42" height="7.62" fill="#ee4c51"/>
<rect x="316.56" y="299.31" width="11.42" height="7.62" fill="#eb333a"/>
<rect x="327.48" y="299.31" width="11.42" height="7.62" fill="#dcdcef"/>
<rect x="338.40" y="299.31" width="11.42" height="7.62" fill="#f5f5fa"/>
<rect x="349.32" y="299.31" width="11.42" height="7.62" fill="#f5f5fa"/>
<rect x="360.24" y="299.31" width="11.42" height="7.62" fill="#e6e6f4"/>
<rect x="371.16" y="299.31" width="11.42" height="7.62" fill="#fde9ea"/>
<rect x="382.08" y="299.31" width="11.42" height="7.62" fill="#fcdadc"/>
<rect x="393.00" y="299.31" width="11.42" height="7.62" fill="#fef0f1"/>
<rect x="403.92" y="299.31" width="11.42" height="7.62" fill="#f8b6ba"/>
<rect x="414.84" y="299.31" width="11.42" height="7.62" fill="#bdbee0"/>
<rect x="425.76" y="299.31" width="11.42" height="7.62" fill="#999bcf"/>
<rect x="436.68" y="299.31" width="11.42" height="7.62" fill="#999bcf"/>
<rect x="447.60" y="299.31" width="10.92" height="7.62" fill="#e6e6f4"/>
<rect x="283.80" y="306.43" width="11.42" height="7.62" fill="#ee4c51"/>
<rect x="294.72" y="306.43" width="11.42" height="7.62" fill="#ee4c51"/>
<rect x="305.64" y="306.43" width="11.42" height="7.62" fill="#ee4c51"/>
<rect x="316.56" y="306.43" width="11.42" height="7.62" fill="#eb333a"/>
<rect x="327.48" y="306.43" width="11.42" height="7.62" fill="#ffffff"/>
<rect x="338.40" y="306.43" width="11.42" height="7.62" fill="#f0f0f8"/>
<rect x="349.32" y="306.43" width="11.42" height="7.62" fill="#e6e6f4"/>
<rect x="360.24" y="306.43" width="11.42" height="7.62" fill="#cdcde8"/>
<rect x="371.16" y="306.43" width="11.42" height="7.62" fill="#fcdadc"/>
<rect x="382.08" y="306.43" width="11.42" height="7.62" fill="#fde9ea"/>
<rect x="393.00" y="306.43" width="11.42" height="7.62" fill="#fcdadc"/>
<rect x="403.92" y="306.43" width="11.42" height="7.62" fill="#f0f0f8"/>
<rect x="414.84" y="306.43" width="11.42" height="7.62" fill="#cdcde8"/>
<rect x="425.76" y="306.43" width="11.42" height="7.62" fill="#8084c4"/>
<rect x="436.68" y="306.43" width="11.42" height="7.62" fill="#e6e6f4"/>
<rect x="447.60" y="306.43" width="10.92" height="7.62" fill="#bdbee0"/>
<rect x="283.80" y="313.55" width="11.42" height="7.62" fill="#ee4c51"/>
<rect x="294.72" y="313.55" width="11.42" height="7.62" fill="#ee4c51"/>
<rect x="305.64" y="313.55" width="11.42" height="7.62" fill="#ee4c51"/>
<rect x="316.56" y="313.55" width="11.42" height="7.62" fill="#eb333a"/>
<rect x="327.48" y="313.55" width="11.42" height="7.62" fill="#cdcde8"/>
<rect x="338.40" y="313.55" width="11.42" height="7.62" fill="#b3b4dc"/>
<rect x="349.32" y="313.55" width="11.42" height="7.62" fill="#dcdcef"/>
<rect x="360.24" y="313.55" width="11.42" height="7.62" fill="#f0f0f8"/>
<rect x="371.16" y="313.55" width="11.42" height="7.62" fill="#ffffff"/>
<rect x="382.08" y="313.55" width="11.42" height="7.62" fill="#ffffff"/>
<rect x="393.00" y="313.55" width="11.42" height="7.62" fill="#facccf"/>
<rect x="403.92" y="313.55" width="11.42" height="7.62" fill="#fcdadc"/>
<rect x="414.84" y="313.55" width="11.42" height="7.62" fill="#bdbee0"/>
<rect x="425.76" y="313.55" width="11.42" height="7.62" fill="#f0f0f8"/>
<rect x="436.68" y="313.55" width="11.42" height="7.62" fill="#999bcf"/>
<rect x="447.60" y="313.55" width="10.92" height="7.62" fill="#cdcde8"/>
<rect x="283.80" y="320.66" width="11.42" height="7.62" fill="#ee4c51"/>
<rect x="294.72" y="320.66" width="11.42" height="7.62" fill="#ee4c51"/>
<rect x="305.64" y="320.66" width="11.42" height="7.62" fill="#ee4c51"/>
<rect x="316.56" y="320.66" width="11.42" height="7.62" fill="#ee4c51"/>
<rect x="327.48" y="320.66" width="11.42" height="7.62" fill="#bdbee0"/>
<rect x="338.40" y="320.66" width="11.42" height="7.62" fill="#fde9ea"/>
<rect x="349.32" y="320.66" width="11.42" height="7.62" fill="#f5f5fa"/>
<rect x="360.24" y="320.66" width="11.42" height="7.62" fill="#fcdadc"/>
<rect x="371.16" y="320.66" width="11.42" height="7.62" fill="#facccf"/>
<rect x="382.08" y="320.66" width="11.42" height="7.62" fill="#facccf"/>
<rect x="393.00" y="320.66" width="11.42" height="7.62" fill="#fcdadc"/>
<rect x="403.92" y="320.66" width="11.42" height="7.62" fill="#fde9ea"/>
<rect x="414.84" y="320.66" width="11.42" height="7.62" fill="#dcdcef"/>
<rect x="425.76" y="320.66" width="11.42" height="7.62" fill="#8a8dc8"/>
<rect x="436.68" y="320.66" width="11.42" height="7.62" fill="#686db8"/>
<rect x="447.60" y="320.66" width="10.92" height="7.62" fill="#999bcf"/>
<rect x="283.80" y="327.77" width="11.42" height="7.62" fill="#ed4248"/>
<rect x="294.72" y="327.77" width="11.42" height="7.62" fill="#ed4248"/>
<rect x="305.64" y="327.77" width="11.42" height="7.62" fill="#ed4248"/>
<rect x="316.56" y="327.77" width="11.42" height="7.62" fill="#ef565b"/>
<rect x="327.48" y="327.77" width="11.42" height="7.62" fill="#bdbee0"/>
<rect x="338.40" y="327.77" width="11.42" height="7.62" fill="#fef0f1"/>
<rect x="349.32" y="327.77" width="11.42" height="7.62" fill="#f0f0f8"/>
<rect x="360.24" y="327.77" width="11.42" height="7.62" fill="#dcdcef"/>
<rect x="371.16" y="327.77" width="11.42" height="7.62" fill="#fef0f1"/>
<rect x="382.08" y="327.77" width="11.42" height="7.62" fill="#fcdadc"/>
<rect x="393.00" y="327.77" width="11.42" height="7.62" fill="#f0f0f8"/>
<rect x="403.92" y="327.77" width="11.42" height="7.62" fill="#f0f0f8"/>
<rect x="414.84" y="327.77" width="11.42" height="7.62" fill="#fde9ea"/>
<rect x="425.76" y="327.77" width="11.42" height="7.62" fill="#dcdcef"/>
<rect x="436.68" y="327.77" width="11.42" height="7.62" fill="#686db8"/>
<rect x="447.60" y="327.77" width="10.92" height="7.62" fill="#999bcf"/>
<rect x="283.80" y="334.89" width="11.42" height="7.62" fill="#ef565b"/>
<rect x="294.72" y="334.89" width="11.42" height="7.62" fill="#ef565b"/>
<rect x="305.64" y="334.89" width="11.42" height="7.62" fill="#ef565b"/>
<rect x="316.56" y="334.89" width="11.42" height="7.62" fill="#ef565b"/>
<rect x="327.48" y="334.89" width="11.42" height="7.62" fill="#f9c5c8"/>
<rect x="338.40" y="334.89" width="11.42" height="7.62" fill="#f9c5c8"/>
<rect x="349.32" y="334.89" width="11.42" height="7.62" fill="#f8b6ba"/>
<rect x="360.24" y="334.89" width="11.42" height="7.62" fill="#fcdadc"/>
<rect x="371.16" y="334.89" width="11.42" height="7.62" fill="#fde9ea"/>
<rect x="382.08" y="334.89" width="11.42" height="7.62" fill="#fde9ea"/>
<rect x="393.00" y="334.89" width="11.42" height="7.62" fill="#fde9ea"/>
<rect x="403.92" y="334.89" width="11.42" height="7.62" fill="#fde9ea"/>
<rect x="414.84" y="334.89" width="11.42" height="7.62" fill="#a3a5d4"/>
<rect x="425.76" y="334.89" width="11.42" height="7.62" fill="#b3b4dc"/>
<rect x="436.68" y="334.89" width="11.42" height="7.62" fill="#5962b2"/>
<rect x="447.60" y="334.89" width="10.92" height="7.62" fill="#8a8dc8"/>
<rect x="283.80" y="342.00" width="11.42" height="7.62" fill="#f0656a"/>
<rect x="294.72" y="342.00" width="11.42" height="7.62" fill="#f17479"/>
<rect x="305.64" y="342.00" width="11.42" height="7.62" fill="#f27e83"/>
<rect x="316.56" y="342.00" width="11.42" height="7.62" fill="#f17479"/>
<rect x="327.48" y="342.00" width="11.42" height="7.62" fill="#f8b6ba"/>
<rect x="338.40" y="342.00" width="11.42" height="7.62" fill="#f8b6ba"/>
<rect x="349.32" y="342.00" width="11.42" height="7.62" fill="#fde9ea"/>
<rect x="360.24" y="342.00" width="11.42" height="7.62" fill="#ffffff"/>
<rect x="371.16" y="342.00" width="11.42" height="7.62" fill="#fde9ea"/>
<rect x="382.08" y="342.00" width="11.42" height="7.62" fill="#f7abaf"/>
<rect x="393.00" y="342.00" width="11.42" height="7.62" fill="#fde9ea"/>
<rect x="403.92" y="342.00" width="11.42" height="7.62" fill="#f9c5c8"/>
<rect x="414.84" y="342.00" width="11.42" height="7.62" fill="#686db8"/>
<rect x="425.76" y="342.00" width="11.42" height="7.62" fill="#4553a9"/>
<rect x="436.68" y="342.00" width="11.42" height="7.62" fill="#fde9ea"/>
<rect x="447.60" y="342.00" width="10.92" height="7.62" fill="#8a8dc8"/>
<rect x="283.80" y="349.12" width="11.42" height="7.62" fill="#eb333a"/>
<rect x="294.72" y="349.12" width="11.42" height="7.62" fill="#f6a5aa"/>
<rect x="305.64" y="349.12" width="11.42" height="7.62" fill="#f17479"/>
<rect x="316.56" y="349.12" width="11.42" height="7.62" fill="#ed4248"/>
<rect x="327.48" y="349.12" width="11.42" height="7.62" fill="#fde9ea"/>
<rect x="338.40" y="349.12" width="11.42" height="7.62" fill="#f9c5c8"/>
<rect x="349.32" y="349.12" width="11.42" height="7.62" fill="#f0f0f8"/>
<rect x="360.24" y="349.12" width="11.42" height="7.62" fill="#f9c5c8"/>
<rect x="371.16" y="349.12" width="11.42" height="7.62" fill="#fde9ea"/>
<rect x="382.08" y="349.12" width="11.42" height="7.62" fill="#f0f0f8"/>
<rect x="393.00" y="349.12" width="11.42" height="7.62" fill="#f9c5c8"/>
<rect x="403.92" y="349.12" width="11.42" height="7.62" fill="#ffffff"/>
<rect x="414.84" y="349.12" width="11.42" height="7.62" fill="#e6e6f4"/>
<rect x="425.76" y="349.12" width="11.42" height="7.62" fill="#4553a9"/>
<rect x="436.68" y="349.12" width="11.42" height="7.62" fill="#ffffff"/>
<rect x="447.60" y="349.12" width="10.92" height="7.62" fill="#999bcf"/>
<rect x="283.80" y="356.24" width="11.42" height="7.62" fill="#f3898e"/>
<rect x="294.72" y="356.24" width="11.42" height="7.62" fill="#f27e83"/>
<rect x="305.64" y="356.24" width="11.42" height="7.62" fill="#f27e83"/>
<rect x="316.56" y="356.24" width="11.42" height="7.62" fill="#ec3d44"/>
<rect x="327.48" y="356.24" width="11.42" height="7.62" fill="#ffffff"/>
<rect x="338.40" y="356.24" width="11.42" height="7.62" fill="#f59a9e"/>
<rect x="349.32" y="356.24" width="11.42" height="7.62" fill="#f8b6ba"/>
<rect x="360.24" y="356.24" width="11.42" height="7.62" fill="#ffffff"/>
<rect x="371.16" y="356.24" width="11.42" height="7.62" fill="#ffffff"/>
<rect x="382.08" y="356.24" width="11.42" height="7.62" fill="#ffffff"/>
<rect x="393.00" y="356.24" width="11.42" height="7.62" fill="#f5f5fa"/>
<rect x="403.92" y="356.24" width="11.42" height="7.62" fill="#facccf"/>
<rect x="414.84" y="356.24" width="11.42" height="7.62" fill="#f9c5c8"/>
<rect x="425.76" y="356.24" width="11.42" height="7.62" fill="#686db8"/>
<rect x="436.68" y="356.24" width="11.42" height="7.62" fill="#5962b2"/>
<rect x="447.60" y="356.24" width="10.92" height="7.62" fill="#dcdcef"/>
<rect x="283.80" y="363.35" width="11.42" height="7.62" fill="#facccf"/>
<rect x="294.72" y="363.35" width="11.42" height="7.62" fill="#f7abaf"/>
<rect x="305.64" y="363.35" width="11.42" height="7.62" fill="#f6a5aa"/>
<rect x="316.56" y="363.35" width="11.42" height="7.62" fill="#ee4c51"/>
<rect x="327.48" y="363.35" width="11.42" height="7.62" fill="#d7d7ed"/>
<rect x="338.40" y="363.35" width="11.42" height="7.62" fill="#f59a9e"/>
<rect x="349.32" y="363.35" width="11.42" height="7.62" fill="#f8b6ba"/>
<rect x="360.24" y="363.35" width="11.42" height="7.62" fill="#f7abaf"/>
<rect x="371.16" y="363.35" width="11.42" height="7.62" fill="#fcdadc"/>
<rect x="382.08" y="363.35" width="11.42" height="7.62" fill="#f9c5c8"/>
<rect x="393.00" y="363.35" width="11.42" height="7.62" fill="#f6a5aa"/>
<rect x="403.92" y="363.35" width="11.42" height="7.62" fill="#f9c5c8"/>
<rect x="414.84" y="363.35" width="11.42" height="7.62" fill="#facccf"/>
<rect x="425.76" y="363.35" width="11.42" height="7.62" fill="#4553a9"/>
<rect x="436.68" y="363.35" width="11.42" height="7.62" fill="#5962b2"/>
<rect x="447.60" y="363.35" width="10.92" height="7.62" fill="#f5f5fa"/>
<rect x="283.80" y="370.47" width="11.42" height="7.62" fill="#dcdcef"/>
<rect x="294.72" y="370.47" width="11.42" height="7.62" fill="#686db8"/>
<rect x="305.64" y="370.47" width="11.42" height="7.62" fill="#a3a5d4"/>
<rect x="316.56" y="370.47" width="11.42" height="7.62" fill="#686db8"/>
<rect x="327.48" y="370.47" width="11.42" height="7.62" fill="#f0656a"/>
<rect x="338.40" y="370.47" width="11.42" height="7.62" fill="#fde9ea"/>
<rect x="349.32" y="370.47" width="11.42" height="7.62" fill="#f8b6ba"/>
<rect x="360.24" y="370.47" width="11.42" height="7.62" fill="#f6a5aa"/>
<rect x="371.16" y="370.47" width="11.42" height="7.62" fill="#fcdadc"/>
<rect x="382.08" y="370.47" width="11.42" height="7.62" fill="#e6e6f4"/>
<rect x="393.00" y="370.47" width="11.42" height="7.62" fill="#fde9ea"/>
<rect x="403.92" y="370.47" width="11.42" height="7.62" fill="#f8b6ba"/>
<rect x="414.84" y="370.47" width="11.42" height="7.62" fill="#f8b6ba"/>
<rect x="425.76" y="370.47" width="11.42" height="7.62" fill="#e4121e"/>
<rect x="436.68" y="370.47" width="11.42" height="7.62" fill="#f9c5c8"/>
<rect x="447.60" y="370.47" width="10.92" height="7.62" fill="#fef0f1"/>
<rect x="283.80" y="377.58" width="11.42" height="7.62" fill="#5962b2"/>
<rect x="294.72" y="377.58" width="11.42" height="7.62" fill="#8084c4"/>
<rect x="305.64" y="377.58" width="11.42" height="7.62" fill="#7276bd"/>
<rect x="316.56" y="377.58" width="11.42" height="7.62" fill="#8084c4"/>
<rect x="327.48" y="377.58" width="11.42" height="7.62" fill="#f0656a"/>
<rect x="338.40" y="377.58" width="11.42" height="7.62" fill="#f0656a"/>
<rect x="349.32" y="377.58" width="11.42" height="7.62" fill="#f0656a"/>
<rect x="360.24" y="377.58" width="11.42" height="7.62" fill="#f3898e"/>
<rect x="371.16" y="377.58" width="11.42" height="7.62" fill="#f59a9e"/>
<rect x="382.08" y="377.58" width="11.42" height="7.62" fill="#fde9ea"/>
<rect x="393.00" y="377.58" width="11.42" height="7.62" fill="#facccf"/>
<rect x="403.92" y="377.58" width="11.42" height="7.62" fill="#fde9ea"/>
<rect x="414.84" y="377.58" width="11.42" height="7.62" fill="#f59a9e"/>
<rect x="425.76" y="377.58" width="11.42" height="7.62" fill="#f8b6ba"/>
<rect x="436.68" y="377.58" width="11.42" height="7.62" fill="#f8b6ba"/>
<rect x="447.60" y="377.58" width="10.92" height="7.62" fill="#f59a9e"/>
<rect x="283.80" y="384.70" width="11.42" height="7.62" fill="#5962b2"/>
<rect x="294.72" y="384.70" width="11.42" height="7.62" fill="#8084c4"/>
<rect x="305.64" y="384.70" width="11.42" height="7.62" fill="#7276bd"/>
<rect x="316.56" y="384.70" width="11.42" height="7.62" fill="#7276bd"/>
<rect x="327.48" y="384.70" width="11.42" height="7.62" fill="#f59a9e"/>
<rect x="338.40" y="384.70" width="11.42" height="7.62" fill="#f59a9e"/>
<rect x="349.32" y="384.70" width="11.42" height="7.62" fill="#f27e83"/>
<rect x="360.24" y="384.70" width="11.42" height="7.62" fill="#f59a9e"/>
<rect x="371.16" y="384.70" width="11.42" height="7.62" fill="#fcdadc"/>
<rect x="382.08" y="384.70" width="11.42" height="7.62" fill="#fde9ea"/>
<rect x="393.00" y="384.70" width="11.42" height="7.62" fill="#fde9ea"/>
<rect x="403.92" y="384.70" width="11.42" height="7.62" fill="#fef0f1"/>
<rect x="414.84" y="384.70" width="11.42" height="7.62" fill="#f27e83"/>
<rect x="425.76" y="384.70" width="11.42" height="7.62" fill="#f16f74"/>
<rect x="436.68" y="384.70" width="11.42" height="7.62" fill="#f7abaf"/>
<rect x="447.60" y="384.70" width="10.92" height="7.62" fill="#f3898e"/>
<rect x="283.80" y="391.81" width="11.42" height="7.62" fill="#a3a5d4"/>
<rect x="294.72" y="391.81" width="11.42" height="7.62" fill="#b3b4dc"/>
<rect x="305.64" y="391.81" width="11.42" height="7.62" fill="#999bcf"/>
<rect x="316.56" y="391.81" width="11.42" height="7.62" fill="#5962b2"/>
<rect x="327.48" y="391.81" width="11.42" height="7.62" fill="#f59a9e"/>
<rect x="338.40" y="391.81" width="11.42" height="7.62" fill="#f0656a"/>
<rect x="349.32" y="391.81" width="11.42" height="7.62" fill="#f27e83"/>
<rect x="360.24" y="391.81" width="11.42" height="7.62" fill="#f8b6ba"/>
<rect x="371.16" y="391.81" width="11.42" height="7.62" fill="#ffffff"/>
<rect x="382.08" y="391.81" width="11.42" height="7.62" fill="#f5f5fa"/>
<rect x="393.00" y="391.81" width="11.42" height="7.62" fill="#8084c4"/>
<rect x="403.92" y="391.81" width="11.42" height="7.62" fill="#fde9ea"/>
<rect x="414.84" y="391.81" width="11.42" height="7.62" fill="#f17479"/>
<rect x="425.76" y="391.81" width="11.42" height="7.62" fill="#f16f74"/>
<rect x="436.68" y="391.81" width="11.42" height="7.62" fill="#f3898e"/>
<rect x="447.60" y="391.81" width="10.92" height="7.62" fill="#f7abaf"/>
<rect x="283.80" y="398.93" width="11.42" height="7.62" fill="#8084c4"/>
<rect x="294.72" y="398.93" width="11.42" height="7.62" fill="#b3b4dc"/>
<rect x="305.64" y="398.93" width="11.42" height="7.62" fill="#8f92ca"/>
<rect x="316.56" y="398.93" width="11.42" height="7.62" fill="#8084c4"/>
<rect x="327.48" y="398.93" width="11.42" height="7.62" fill="#f3898e"/>
<rect x="338.40" y="398.93" width="11.42" height="7.62" fill="#f9c5c8"/>
<rect x="349.32" y="398.93" width="11.42" height="7.62" fill="#f59a9e"/>
<rect x="360.24" y="398.93" width="11.42" height="7.62" fill="#f27e83"/>
<rect x="371.16" y="398.93" width="11.42" height="7.62" fill="#ffffff"/>
<rect x="382.08" y="398.93" width="11.42" height="7.62" fill="#ffffff"/>
<rect x="393.00" y="398.93" width="11.42" height="7.62" fill="#f0f0f8"/>
<rect x="403.92" y="398.93" width="11.42" height="7.62" fill="#fef0f1"/>
<rect x="414.84" y="398.93" width="11.42" height="7.62" fill="#fcdadc"/>
<rect x="425.76" y="398.93" width="11.42" height="7.62" fill="#f0656a"/>
<rect x="436.68" y="398.93" width="11.42" height="7.62" fill="#ee4c51"/>
<rect x="447.60" y="398.93" width="10.92" height="7.62" fill="#f17479"/>
<rect x="283.80" y="406.04" width="11.42" height="7.62" fill="#8a8dc8"/>
<rect x="294.72" y="406.04" width="11.42" height="7.62" fill="#5e66b4"/>
<rect x="305.64" y="406.04" width="11.42" height="7.62" fill="#8084c4"/>
<rect x="316.56" y="406.04" width="11.42" height="7.62" fill="#8084c4"/>
<rect x="327.48" y="406.04" width="11.42" height="7.62" fill="#f8b6ba"/>
<rect x="338.40" y="406.04" width="11.42" height="7.62" fill="#fde9ea"/>
<rect x="349.32" y="406.04" width="11.42" height="7.62" fill="#fde9ea"/>
<rect x="360.24" y="406.04" width="11.42" height="7.62" fill="#fcdadc"/>
<rect x="371.16" y="406.04" width="11.42" height="7.62" fill="#f3898e"/>
<rect x="382.08" y="406.04" width="11.42" height="7.62" fill="#f8b6ba"/>
<rect x="393.00" y="406.04" width="11.42" height="7.62" fill="#f16f74"/>
<rect x="403.92" y="406.04" width="11.42" height="7.62" fill="#f59a9e"/>
<rect x="414.84" y="406.04" width="11.42" height="7.62" fill="#f16f74"/>
<rect x="425.76" y="406.04" width="11.42" height="7.62" fill="#f27e83"/>
<rect x="436.68" y="406.04" width="11.42" height="7.62" fill="#f27e83"/>
<rect x="447.60" y="406.04" width="10.92" height="7.62" fill="#f59a9e"/>
<rect x="283.80" y="413.15" width="11.42" height="7.62" fill="#8084c4"/>
<rect x="294.72" y="413.15" width="11.42" height="7.62" fill="#777bbf"/>
<rect x="305.64" y="413.15" width="11.42" height="7.62" fill="#8084c4"/>
<rect x="316.56" y="413.15" width="11.42" height="7.62" fill="#8084c4"/>
<rect x="327.48" y="413.15" width="11.42" height="7.62" fill="#fde9ea"/>
<rect x="338.40" y="413.15" width="11.42" height="7.62" fill="#ffffff"/>
<rect x="349.32" y="413.15" width="11.42" height="7.62" fill="#ffffff"/>
<rect x="360.24" y="413.15" width="11.42" height="7.62" fill="#f0f0f8"/>
<rect x="371.16" y="413.15" width="11.42" height="7.62" fill="#f27e83"/>
<rect x="382.08" y="413.15" width="11.42" height="7.62" fill="#f6a5aa"/>
<rect x="393.00" y="413.15" width="11.42" height="7.62" fill="#f3898e"/>
<rect x="403.92" y="413.15" width="11.42" height="7.62" fill="#f59a9e"/>
<rect x="414.84" y="413.15" width="11.42" height="7.62" fill="#ef565b"/>
<rect x="425.76" y="413.15" width="11.42" height="7.62" fill="#f16f74"/>
<rect x="436.68" y="413.15" width="11.42" height="7.62" fill="#f27e83"/>
<rect x="447.60" y="413.15" width="10.92" height="7.62" fill="#f59a9e"/>
<rect x="283.80" y="420.27" width="11.42" height="7.62" fill="#8084c4"/>
<rect x="294.72" y="420.27" width="11.42" height="7.62" fill="#777bbf"/>
<rect x="305.64" y="420.27" width="11.42" height="7.62" fill="#777bbf"/>
<rect x="316.56" y="420.27" width="11.42" height="7.62" fill="#777bbf"/>
<rect x="327.48" y="420.27" width="11.42" height="7.62" fill="#fcdadc"/>
<rect x="338.40" y="420.27" width="11.42" height="7.62" fill="#fde9ea"/>
<rect x="349.32" y="420.27" width="11.42" height="7.62" fill="#fef0f1"/>
<rect x="360.24" y="420.27" width="11.42" height="7.62" fill="#f0f0f8"/>
<rect x="371.16" y="420.27" width="11.42" height="7.62" fill="#f59a9e"/>
<rect x="382.08" y="420.27" width="11.42" height="7.62" fill="#f27e83"/>
<rect x="393.00" y="420.27" width="11.42" height="7.62" fill="#f3898e"/>
<rect x="403.92" y="420.27" width="11.42" height="7.62" fill="#f6a5aa"/>
<rect x="414.84" y="420.27" width="11.42" height="7.62" fill="#ef565b"/>
<rect x="425.76" y="420.27" width="11.42" height="7.62" fill="#f16f74"/>
<rect x="436.68" y="420.27" width="11.42" height="7.62" fill="#f16f74"/>
<rect x="447.60" y="420.27" width="10.92" height="7.62" fill="#f59a9e"/>
<rect x="283.80" y="427.38" width="11.42" height="7.62" fill="#999bcf"/>
<rect x="294.72" y="427.38" width="11.42" height="7.62" fill="#7276bd"/>
<rect x="305.64" y="427.38" width="11.42" height="7.62" fill="#7276bd"/>
<rect x="316.56" y="427.38" width="11.42" height="7.62" fill="#5e66b4"/>
<rect x="327.48" y="427.38" width="11.42" height="7.62" fill="#fde9ea"/>
<rect x="338.40" y="427.38" width="11.42" height="7.62" fill="#fde9ea"/>
<rect x="349.32" y="427.38" width="11.42" height="7.62" fill="#fde9ea"/>
<rect x="360.24" y="427.38" width="11.42" height="7.62" fill="#fef0f1"/>
<rect x="371.16" y="427.38" width="11.42" height="7.62" fill="#f3898e"/>
<rect x="382.08" y="427.38" width="11.42" height="7.62" fill="#f16f74"/>
<rect x="393.00" y="427.38" width="11.42" height="7.62" fill="#f59a9e"/>
<rect x="403.92" y="427.38" width="11.42" height="7.62" fill="#f17479"/>
<rect x="414.84" y="427.38" width="11.42" height="7.62" fill="#f17479"/>
<rect x="425.76" y="427.38" width="11.42" height="7.62" fill="#f16f74"/>
<rect x="436.68" y="427.38" width="11.42" height="7.62" fill="#f16f74"/>
<rect x="447.60" y="427.38" width="10.92" height="7.62" fill="#f7abaf"/>
<rect x="283.80" y="434.50" width="11.42" height="7.62" fill="#8084c4"/>
<rect x="294.72" y="434.50" width="11.42" height="7.62" fill="#8084c4"/>
<rect x="305.64" y="434.50" width="11.42" height="7.62" fill="#777bbf"/>
<rect x="316.56" y="434.50" width="11.42" height="7.62" fill="#8084c4"/>
<rect x="327.48" y="434.50" width="11.42" height="7.62" fill="#ffffff"/>
<rect x="338.40" y="434.50" width="11.42" height="7.62" fill="#fde9ea"/>
<rect x="349.32" y="434.50" width="11.42" height="7.62" fill="#ffffff"/>
<rect x="360.24" y="434.50" width="11.42" height="7.62" fill="#fafafd"/>
<rect x="371.16" y="434.50" width="11.42" height="7.62" fill="#f3898e"/>
<rect x="382.08" y="434.50" width="11.42" height="7.62" fill="#f16f74"/>
<rect x="393.00" y="434.50" width="11.42" height="7.62" fill="#f16f74"/>
<rect x="403.92" y="434.50" width="11.42" height="7.62" fill="#fde9ea"/>
<rect x="414.84" y="434.50" width="11.42" height="7.62" fill="#ef565b"/>
<rect x="425.76" y="434.50" width="11.42" height="7.62" fill="#f59a9e"/>
<rect x="436.68" y="434.50" width="11.42" height="7.62" fill="#f27e83"/>
<rect x="447.60" y="434.50" width="10.92" height="7.62" fill="#f3898e"/>
<rect x="283.80" y="441.62" width="11.42" height="7.62" fill="#5e66b4"/>
<rect x="294.72" y="441.62" width="11.42" height="7.62" fill="#8084c4"/>
<rect x="305.64" y="441.62" width="11.42" height="7.62" fill="#777bbf"/>
<rect x="316.56" y="441.62" width="11.42" height="7.62" fill="#a3a5d4"/>
<rect x="327.48" y="441.62" width="11.42" height="7.62" fill="#fde9ea"/>
<rect x="338.40" y="441.62" width="11.42" height="7.62" fill="#facccf"/>
<rect x="349.32" y="441.62" width="11.42" height="7.62" fill="#facccf"/>
<rect x="360.24" y="441.62" width="11.42" height="7.62" fill="#ffffff"/>
<rect x="371.16" y="441.62" width="11.42" height="7.62" fill="#f16f74"/>
<rect x="382.08" y="441.62" width="11.42" height="7.62" fill="#f8b6ba"/>
<rect x="393.00" y="441.62" width="11.42" height="7.62" fill="#f59a9e"/>
<rect x="403.92" y="441.62" width="11.42" height="7.62" fill="#f59a9e"/>
<rect x="414.84" y="441.62" width="11.42" height="7.62" fill="#f0656a"/>
<rect x="425.76" y="441.62" width="11.42" height="7.62" fill="#f8b6ba"/>
<rect x="436.68" y="441.62" width="11.42" height="7.62" fill="#f8b6ba"/>
<rect x="447.60" y="441.62" width="10.92" height="7.62" fill="#f16f74"/>
<rect x="283.80" y="448.73" width="11.42" height="7.62" fill="#8084c4"/>
<rect x="294.72" y="448.73" width="11.42" height="7.62" fill="#686db8"/>
<rect x="305.64" y="448.73" width="11.42" height="7.62" fill="#686db8"/>
<rect x="316.56" y="448.73" width="11.42" height="7.62" fill="#5e66b4"/>
<rect x="327.48" y="448.73" width="11.42" height="7.62" fill="#f6a5aa"/>
<rect x="338.40" y="448.73" width="11.42" height="7.62" fill="#f59a9e"/>
<rect x="349.32" y="448.73" width="11.42" height="7.62" fill="#f6a5aa"/>
<rect x="360.24" y="448.73" width="11.42" height="7.62" fill="#f6a5aa"/>
<rect x="371.16" y="448.73" width="11.42" height="7.62" fill="#f59a9e"/>
<rect x="382.08" y="448.73" width="11.42" height="7.62" fill="#f3898e"/>
<rect x="393.00" y="448.73" width="11.42" height="7.62" fill="#f59a9e"/>
<rect x="403.92" y="448.73" width="11.42" height="7.62" fill="#f59a9e"/>
<rect x="414.84" y="448.73" width="11.42" height="7.62" fill="#f59a9e"/>
<rect x="425.76" y="448.73" width="11.42" height="7.62" fill="#f6a5aa"/>
<rect x="436.68" y="448.73" width="11.42" height="7.62" fill="#f7abaf"/>
<rect x="447.60" y="448.73" width="10.92" height="7.62" fill="#facccf"/>
<rect x="283.80" y="455.85" width="11.42" height="7.62" fill="#8f92ca"/>
<rect x="294.72" y="455.85" width="11.42" height="7.62" fill="#8084c4"/>
<rect x="305.64" y="455.85" width="11.42" height="7.62" fill="#8084c4"/>
<rect x="316.56" y="455.85" width="11.42" height="7.62" fill="#5962b2"/>
<rect x="327.48" y="455.85" width="11.42" height="7.62" fill="#f9c5c8"/>
<rect x="338.40" y="455.85" width="11.42" height="7.62" fill="#f6a5aa"/>
<rect x="349.32" y="455.85" width="11.42" height="7.62" fill="#f6a5aa"/>
<rect x="360.24" y="455.85" width="11.42" height="7.62" fill="#f27e83"/>
<rect x="371.16" y="455.85" width="11.42" height="7.62" fill="#f27e83"/>
<rect x="382.08" y="455.85" width="11.42" height="7.62" fill="#f8b6ba"/>
<rect x="393.00" y="455.85" width="11.42" height="7.62" fill="#fef0f1"/>
<rect x="403.92" y="455.85" width="11.42" height="7.62" fill="#f0656a"/>
<rect x="414.84" y="455.85" width="11.42" height="7.62" fill="#fde9ea"/>
<rect x="425.76" y="455.85" width="11.42" height="7.62" fill="#f8b6ba"/>
<rect x="436.68" y="455.85" width="11.42" height="7.62" fill="#f16f74"/>
<rect x="447.60" y="455.85" width="10.92" height="7.62" fill="#f9c5c8"/>
<rect x="283.80" y="462.96" width="11.42" height="7.62" fill="#8f92ca"/>
<rect x="294.72" y="462.96" width="11.42" height="7.62" fill="#fde9ea"/>
<rect x="305.64" y="462.96" width="11.42" height="7.62" fill="#f0f0f8"/>
<rect x="316.56" y="462.96" width="11.42" height="7.62" fill="#fef0f1"/>
<rect x="327.48" y="462.96" width="11.42" height="7.62" fill="#8084c4"/>
<rect x="338.40" y="462.96" width="11.42" height="7.62" fill="#999bcf"/>
<rect x="349.32" y="462.96" width="11.42" height="7.62" fill="#dcdcef"/>
<rect x="360.24" y="462.96" width="11.42" height="7.62" fill="#f5f5fa"/>
<rect x="371.16" y="462.96" width="11.42" height="7.62" fill="#f9c5c8"/>
<rect x="382.08" y="462.96" width="11.42" height="7.62" fill="#ffffff"/>
<rect x="393.00" y="462.96" width="11.42" height="7.62" fill="#fde9ea"/>
<rect x="403.92" y="462.96" width="11.42" height="7.62" fill="#fcdadc"/>
<rect x="414.84" y="462.96" width="11.42" height="7.62" fill="#f9c5c8"/>
<rect x="425.76" y="462.96" width="11.42" height="7.62" fill="#f0656a"/>
<rect x="436.68" y="462.96" width="11.42" height="7.62" fill="#f0656a"/>
<rect x="447.60" y="462.96" width="10.92" height="7.62" fill="#e4121e"/>
<rect x="283.80" y="470.08" width="11.42" height="7.62" fill="#3648a3"/>
<rect x="294.72" y="470.08" width="11.42" height="7.62" fill="#cdcde8"/>
<rect x="305.64" y="470.08" width="11.42" height="7.62" fill="#a3a5d4"/>
<rect x="316.56" y="470.08" width="11.42" height="7.62" fill="#fef0f1"/>
<rect x="327.48" y="470.08" width="11.42" height="7.62" fill="#f59a9e"/>
<rect x="338.40" y="470.08" width="11.42" height="7.62" fill="#f8b6ba"/>
<rect x="349.32" y="470.08" width="11.42" height="7.62" fill="#f0656a"/>
<rect x="360.24" y="470.08" width="11.42" height="7.62" fill="#f9c5c8"/>
<rect x="371.16" y="470.08" width="11.42" height="7.62" fill="#fde9ea"/>
<rect x="382.08" y="470.08" width="11.42" height="7.62" fill="#ffffff"/>
<rect x="393.00" y="470.08" width="11.42" height="7.62" fill="#f8b6ba"/>
<rect x="403.92" y="470.08" width="11.42" height="7.62" fill="#f9c5c8"/>
<rect x="414.84" y="470.08" width="11.42" height="7.62" fill="#fcdadc"/>
<rect x="425.76" y="470.08" width="11.42" height="7.62" fill="#ffffff"/>
<rect x="436.68" y="470.08" width="11.42" height="7.62" fill="#ffffff"/>
<rect x="447.60" y="470.08" width="10.92" height="7.62" fill="#e4121e"/>
<rect x="283.80" y="477.19" width="11.42" height="7.12" fill="#999bcf"/>
<rect x="294.72" y="477.19" width="11.42" height="7.12" fill="#5962b2"/>
<rect x="305.64" y="477.19" width="11.42" height="7.12" fill="#a3a5d4"/>
<rect x="316.56" y="477.19" width="11.42" height="7.12" fill="#fde9ea"/>
<rect x="327.48" y="477.19" width="11.42" height="7.12" fill="#fde9ea"/>
<rect x="338.40" y="477.19" width="11.42" height="7.12" fill="#cdcde8"/>
<rect x="349.32" y="477.19" width="11.42" height="7.12" fill="#e6e6f4"/>
<rect x="360.24" y="477.19" width="11.42" height="7.12" fill="#f0f0f8"/>
<rect x="371.16" y="477.19" width="11.42" height="7.12" fill="#f8b6ba"/>
<rect x="382.08" y="477.19" width="11.42" height="7.12" fill="#f8b6ba"/>
<rect x="393.00" y="477.19" width="11.42" height="7.12" fill="#eb333a"/>
<rect x="403.92" y="477.19" width="11.42" height="7.12" fill="#ee4c51"/>
<rect x="414.84" y="477.19" width="11.42" height="7.12" fill="#f3898e"/>
<rect x="425.76" y="477.19" width="11.42" height="7.12" fill="#fcdadc"/>
<rect x="436.68" y="477.19" width="11.42" height="7.12" fill="#f9c5c8"/>
<rect x="447.60" y="477.19" width="10.92" height="7.12" fill="#f0656a"/>
<text x="461.00" y="155.26" font-size="5.05" text-anchor="start" style="stroke-width:0.12px" transform="matrix(1 0.001 0 1 0 -0.4610)">Rcsd1 (pS216/pT213)</text>
<text x="461.00" y="162.42" font-size="5.05" text-anchor="start" style="stroke-width:0.12px" transform="matrix(1 0.001 0 1 0 -0.4610)">Cblb (pY763)</text>
<text x="461.00" y="169.58" font-size="5.05" text-anchor="start" style="stroke-width:0.12px" transform="matrix(1 0.001 0 1 0 -0.4610)">Lcp1 (pS5/pS7)</text>
<text x="461.00" y="176.74" font-size="5.05" text-anchor="start" style="stroke-width:0.12px" transform="matrix(1 0.001 0 1 0 -0.4610)">Pgrmc2 (pS98)</text>
<text x="461.00" y="183.90" font-size="5.05" text-anchor="start" style="stroke-width:0.12px" transform="matrix(1 0.001 0 1 0 -0.4610)">Tnfrsf9 (pS195)</text>
<text x="461.00" y="191.06" font-size="5.05" text-anchor="start" style="stroke-width:0.12px" transform="matrix(1 0.001 0 1 0 -0.4610)">Prkab2 (pS183)</text>
<text x="461.00" y="198.22" font-size="5.05" text-anchor="start" style="stroke-width:0.12px" transform="matrix(1 0.001 0 1 0 -0.4610)">Zw10 (pS438)</text>
<text x="461.00" y="205.38" font-size="5.05" text-anchor="start" style="stroke-width:0.12px" transform="matrix(1 0.001 0 1 0 -0.4610)">Brap (pS72)</text>
<text x="461.00" y="212.54" font-size="5.05" text-anchor="start" style="stroke-width:0.12px" transform="matrix(1 0.001 0 1 0 -0.4610)">Klc2 (pS151)</text>
<text x="461.00" y="219.70" font-size="5.05" text-anchor="start" style="stroke-width:0.12px" transform="matrix(1 0.001 0 1 0 -0.4610)">Cep350 (pS2221)</text>
<text x="461.00" y="226.86" font-size="5.05" text-anchor="start" style="stroke-width:0.12px" transform="matrix(1 0.001 0 1 0 -0.4610)">Tpi1 (pS80)</text>
<text x="461.00" y="234.02" font-size="5.05" text-anchor="start" style="stroke-width:0.12px" transform="matrix(1 0.001 0 1 0 -0.4610)">Sap30 (pS131)</text>
<text x="461.00" y="241.18" font-size="5.05" text-anchor="start" style="stroke-width:0.12px" transform="matrix(1 0.001 0 1 0 -0.4610)">H13 (pS62)</text>
<text x="461.00" y="248.34" font-size="5.05" text-anchor="start" style="stroke-width:0.12px" transform="matrix(1 0.001 0 1 0 -0.4610)">Map4 (pS517)</text>
<text x="461.00" y="255.50" font-size="5.05" text-anchor="start" style="stroke-width:0.12px" transform="matrix(1 0.001 0 1 0 -0.4610)">Junb (pS256/pT252)</text>
<text x="461.00" y="262.66" font-size="5.05" text-anchor="start" style="stroke-width:0.12px" transform="matrix(1 0.001 0 1 0 -0.4610)">Rpl10a (pS50)</text>
<text x="461.00" y="269.82" font-size="5.05" text-anchor="start" style="stroke-width:0.12px" transform="matrix(1 0.001 0 1 0 -0.4610)">Nup98 (pS1061)</text>
<text x="461.00" y="276.98" font-size="5.05" text-anchor="start" style="stroke-width:0.12px" transform="matrix(1 0.001 0 1 0 -0.4610)">Akap8l (pS325)</text>
<text x="461.00" y="284.14" font-size="5.05" text-anchor="start" style="stroke-width:0.12px" transform="matrix(1 0.001 0 1 0 -0.4610)">Zfc3h1 (pS356)</text>
<text x="461.00" y="291.30" font-size="5.05" text-anchor="start" style="stroke-width:0.12px" transform="matrix(1 0.001 0 1 0 -0.4610)">Vasp (pY39)</text>
<text x="461.00" y="298.46" font-size="5.05" text-anchor="start" style="stroke-width:0.12px" transform="matrix(1 0.001 0 1 0 -0.4610)">Dok2 (pY351)</text>
<text x="461.00" y="305.62" font-size="5.05" text-anchor="start" style="stroke-width:0.12px" transform="matrix(1 0.001 0 1 0 -0.4610)">Pgk1 (pS203)</text>
<text x="461.00" y="312.78" font-size="5.05" text-anchor="start" style="stroke-width:0.12px" transform="matrix(1 0.001 0 1 0 -0.4610)">Ptpn18 (pT299)</text>
<text x="461.00" y="319.94" font-size="5.05" text-anchor="start" style="stroke-width:0.12px" transform="matrix(1 0.001 0 1 0 -0.4610)">Gab2 (pS2)</text>
<text x="461.00" y="327.10" font-size="5.05" text-anchor="start" style="stroke-width:0.12px" transform="matrix(1 0.001 0 1 0 -0.4610)">Acp1 (pS62)</text>
<text x="461.00" y="334.26" font-size="5.05" text-anchor="start" style="stroke-width:0.12px" transform="matrix(1 0.001 0 1 0 -0.4610)">Flot1 (pS19)</text>
<text x="461.00" y="341.42" font-size="5.05" text-anchor="start" style="stroke-width:0.12px" transform="matrix(1 0.001 0 1 0 -0.4610)">Itsn2 (pY554)</text>
<text x="461.00" y="348.58" font-size="5.05" text-anchor="start" style="stroke-width:0.12px" transform="matrix(1 0.001 0 1 0 -0.4610)">Lgals1 (pS8)</text>
<text x="461.00" y="355.74" font-size="5.05" text-anchor="start" style="stroke-width:0.12px" transform="matrix(1 0.001 0 1 0 -0.4610)">Dok1 (pY295)</text>
<text x="461.00" y="362.90" font-size="5.05" text-anchor="start" style="stroke-width:0.12px" transform="matrix(1 0.001 0 1 0 -0.4610)">Dync1li1 (pS516)</text>
<text x="461.00" y="370.06" font-size="5.05" text-anchor="start" style="stroke-width:0.12px" transform="matrix(1 0.001 0 1 0 -0.4610)">Prkab2 (pS38)</text>
<text x="461.00" y="377.22" font-size="5.05" text-anchor="start" style="stroke-width:0.12px" transform="matrix(1 0.001 0 1 0 -0.4610)">Mlx (pS7)</text>
<text x="461.00" y="384.38" font-size="5.05" text-anchor="start" style="stroke-width:0.12px" transform="matrix(1 0.001 0 1 0 -0.4610)">Depdc6 (pS247)</text>
<text x="461.00" y="391.54" font-size="5.05" text-anchor="start" style="stroke-width:0.12px" transform="matrix(1 0.001 0 1 0 -0.4610)">Tpx2 (pY468)</text>
<text x="461.00" y="398.70" font-size="5.05" text-anchor="start" style="stroke-width:0.12px" transform="matrix(1 0.001 0 1 0 -0.4610)">Ptbp1 (pY86)</text>
<text x="461.00" y="405.86" font-size="5.05" text-anchor="start" style="stroke-width:0.12px" transform="matrix(1 0.001 0 1 0 -0.4610)">Scmh1 (pT294)</text>
<text x="461.00" y="413.02" font-size="5.05" text-anchor="start" style="stroke-width:0.12px" transform="matrix(1 0.001 0 1 0 -0.4610)">Tmem59 (pS226)</text>
<text x="461.00" y="420.18" font-size="5.05" text-anchor="start" style="stroke-width:0.12px" transform="matrix(1 0.001 0 1 0 -0.4610)">Usp20 (pS132/pS134)</text>
<text x="461.00" y="427.34" font-size="5.05" text-anchor="start" style="stroke-width:0.12px" transform="matrix(1 0.001 0 1 0 -0.4610)">Zfp362 (pS408)</text>
<text x="461.00" y="434.50" font-size="5.05" text-anchor="start" style="stroke-width:0.12px" transform="matrix(1 0.001 0 1 0 -0.4610)">Ikzf2 (pS78/pS79)</text>
<text x="461.00" y="441.66" font-size="5.05" text-anchor="start" style="stroke-width:0.12px" transform="matrix(1 0.001 0 1 0 -0.4610)">Smarcd2 (pT221)</text>
<text x="461.00" y="448.82" font-size="5.05" text-anchor="start" style="stroke-width:0.12px" transform="matrix(1 0.001 0 1 0 -0.4610)">Abhd15 (pS57)</text>
<text x="461.00" y="455.98" font-size="5.05" text-anchor="start" style="stroke-width:0.12px" transform="matrix(1 0.001 0 1 0 -0.4610)">Inpp5d (pS971)</text>
<text x="461.00" y="463.14" font-size="5.05" text-anchor="start" style="stroke-width:0.12px" transform="matrix(1 0.001 0 1 0 -0.4610)">Klc4 (pT612)</text>
<text x="461.00" y="470.30" font-size="5.05" text-anchor="start" style="stroke-width:0.12px" transform="matrix(1 0.001 0 1 0 -0.4610)">Zc3h7b (pS142)</text>
<text x="461.00" y="477.46" font-size="5.05" text-anchor="start" style="stroke-width:0.12px" transform="matrix(1 0.001 0 1 0 -0.4610)">Inpp5d (pY917)</text>
<text x="461.00" y="484.62" font-size="5.05" text-anchor="start" style="stroke-width:0.12px" transform="matrix(1 0.001 0 1 0 -0.4610)">Erbb2ip (pS1231)</text>
<text x="261.80" y="202.90" font-size="5.0" text-anchor="start" style="stroke-width:0.12px" transform="matrix(1 0.001 0 1 0 -0.2618)">Z-score</text>
<defs><linearGradient id="zg" x1="0" y1="0" x2="0" y2="1"><stop offset="0" stop-color="#e8161f"/><stop offset="0.2" stop-color="#ec3b42"/><stop offset="0.5" stop-color="#ffffff"/><stop offset="0.78" stop-color="#5a6ab8"/><stop offset="1" stop-color="#2b3f9e"/></linearGradient></defs>
<rect x="261.5" y="205.4" width="5.6" height="27.4" fill="url(#zg)"/>
<text x="268.60" y="208.60" font-size="5.0" text-anchor="start" style="stroke-width:0.12px" transform="matrix(1 0.001 0 1 0 -0.2686)">4</text>
<text x="268.60" y="214.60" font-size="5.0" text-anchor="start" style="stroke-width:0.12px" transform="matrix(1 0.001 0 1 0 -0.2686)">2</text>
<text x="268.60" y="220.60" font-size="5.0" text-anchor="start" style="stroke-width:0.12px" transform="matrix(1 0.001 0 1 0 -0.2686)">0</text>
<text x="268.60" y="227.20" font-size="5.0" text-anchor="start" style="stroke-width:0.12px" transform="matrix(1 0.001 0 1 0 -0.2686)">−2</text>
<text x="268.60" y="233.00" font-size="5.0" text-anchor="start" style="stroke-width:0.12px" transform="matrix(1 0.001 0 1 0 -0.2686)">−4</text>
<text x="8.80" y="268.80" font-size="11.2" text-anchor="start" font-weight="bold" fill="#000" transform="matrix(1 0.001 0 1 0 -0.0088)">E</text>
<rect x="149.40" y="268.10" width="44.83" height="4.00" fill="#0d4a85"/>
<line x1="144.60" y1="270.10" x2="147.20" y2="270.10" stroke="#231f20" stroke-width="0.6"/>
<text x="142.60" y="271.85" font-size="5.0" text-anchor="end" style="stroke-width:0.12px" transform="matrix(1 0.001 0 1 0 -0.1426)">Rap1 signaling pathway</text>
<rect x="149.40" y="272.95" width="22.88" height="4.00" fill="#6a8dc8"/>
<line x1="144.60" y1="274.95" x2="147.20" y2="274.95" stroke="#231f20" stroke-width="0.6"/>
<text x="142.60" y="276.70" font-size="5.0" text-anchor="end" style="stroke-width:0.12px" transform="matrix(1 0.001 0 1 0 -0.1426)">Renal cell carcinoma</text>
<rect x="149.40" y="277.80" width="43.91" height="4.00" fill="#6f92cb"/>
<line x1="144.60" y1="279.80" x2="147.20" y2="279.80" stroke="#231f20" stroke-width="0.6"/>
<text x="142.60" y="281.55" font-size="5.0" text-anchor="end" style="stroke-width:0.12px" transform="matrix(1 0.001 0 1 0 -0.1426)">Ras signaling pathway</text>
<rect x="149.40" y="282.65" width="20.11" height="4.00" fill="#88a5d5"/>
<line x1="144.60" y1="284.65" x2="147.20" y2="284.65" stroke="#231f20" stroke-width="0.6"/>
<text x="142.60" y="286.40" font-size="5.0" text-anchor="end" style="stroke-width:0.12px" transform="matrix(1 0.001 0 1 0 -0.1426)">Central carbon metabolism in cancer</text>
<rect x="149.40" y="287.50" width="23.63" height="4.00" fill="#8ca8d6"/>
<line x1="144.60" y1="289.50" x2="147.20" y2="289.50" stroke="#231f20" stroke-width="0.6"/>
<text x="142.60" y="291.25" font-size="5.0" text-anchor="end" style="stroke-width:0.12px" transform="matrix(1 0.001 0 1 0 -0.1426)">Fc epsilon RI signaling pathway</text>
<rect x="149.40" y="292.35" width="35.62" height="4.00" fill="#9cb3dc"/>
<line x1="144.60" y1="294.35" x2="147.20" y2="294.35" stroke="#231f20" stroke-width="0.6"/>
<text x="142.60" y="296.10" font-size="5.0" text-anchor="end" style="stroke-width:0.12px" transform="matrix(1 0.001 0 1 0 -0.1426)">ErbB signaling pathway</text>
<rect x="149.40" y="297.20" width="33.77" height="4.00" fill="#9fb5dd"/>
<line x1="144.60" y1="299.20" x2="147.20" y2="299.20" stroke="#231f20" stroke-width="0.6"/>
<text x="142.60" y="300.95" font-size="5.0" text-anchor="end" style="stroke-width:0.12px" transform="matrix(1 0.001 0 1 0 -0.1426)">Osteoclast differentiation</text>
<rect x="149.40" y="302.05" width="34.69" height="4.00" fill="#a2b8de"/>
<line x1="144.60" y1="304.05" x2="147.20" y2="304.05" stroke="#231f20" stroke-width="0.6"/>
<text x="142.60" y="305.80" font-size="5.0" text-anchor="end" style="stroke-width:0.12px" transform="matrix(1 0.001 0 1 0 -0.1426)">Chronic myeloid leukemia</text>
<rect x="149.40" y="306.90" width="71.57" height="4.00" fill="#acc0e2"/>
<line x1="144.60" y1="308.90" x2="147.20" y2="308.90" stroke="#231f20" stroke-width="0.6"/>
<text x="142.60" y="310.65" font-size="5.0" text-anchor="end" style="stroke-width:0.12px" transform="matrix(1 0.001 0 1 0 -0.1426)">Epstein-Barr virus infection</text>
<rect x="149.40" y="311.75" width="26.40" height="4.00" fill="#b0c3e3"/>
<line x1="144.60" y1="313.75" x2="147.20" y2="313.75" stroke="#231f20" stroke-width="0.6"/>
<text x="142.60" y="315.50" font-size="5.0" text-anchor="end" style="stroke-width:0.12px" transform="matrix(1 0.001 0 1 0 -0.1426)">Acute myeloid leukemia</text>
<rect x="149.40" y="316.60" width="33.10" height="4.00" fill="#b2c5e4"/>
<line x1="144.60" y1="318.60" x2="147.20" y2="318.60" stroke="#231f20" stroke-width="0.6"/>
<text x="142.60" y="320.35" font-size="5.0" text-anchor="end" style="stroke-width:0.12px" transform="matrix(1 0.001 0 1 0 -0.1426)">TNF signaling pathway</text>
<rect x="149.40" y="321.45" width="36.29" height="4.00" fill="#b3c6e4"/>
<line x1="144.60" y1="323.45" x2="147.20" y2="323.45" stroke="#231f20" stroke-width="0.6"/>
<text x="142.60" y="325.20" font-size="5.0" text-anchor="end" style="stroke-width:0.12px" transform="matrix(1 0.001 0 1 0 -0.1426)">cGMP-PKG signaling pathway</text>
<rect x="149.40" y="326.30" width="17.77" height="4.00" fill="#b6c8e5"/>
<line x1="144.60" y1="328.30" x2="147.20" y2="328.30" stroke="#231f20" stroke-width="0.6"/>
<text x="142.60" y="330.05" font-size="5.0" text-anchor="end" style="stroke-width:0.12px" transform="matrix(1 0.001 0 1 0 -0.1426)">VEGF signaling pathway</text>
<rect x="149.40" y="331.15" width="27.32" height="4.00" fill="#b8c9e6"/>
<line x1="144.60" y1="333.15" x2="147.20" y2="333.15" stroke="#231f20" stroke-width="0.6"/>
<text x="142.60" y="334.90" font-size="5.0" text-anchor="end" style="stroke-width:0.12px" textLength="122.40" lengthAdjust="spacingAndGlyphs" transform="matrix(1 0.001 0 1 0 -0.1426)">PD-L1 expression and PD-1 checkpoint pathway in cancer</text>
<rect x="149.40" y="336.00" width="64.02" height="4.00" fill="#eeb7a8"/>
<line x1="144.60" y1="338.00" x2="147.20" y2="338.00" stroke="#231f20" stroke-width="0.6"/>
<text x="142.60" y="339.75" font-size="5.0" text-anchor="end" style="stroke-width:0.12px" transform="matrix(1 0.001 0 1 0 -0.1426)">Cell cycle</text>
<rect x="149.40" y="340.85" width="59.08" height="4.00" fill="#eeb8a9"/>
<line x1="144.60" y1="342.85" x2="147.20" y2="342.85" stroke="#231f20" stroke-width="0.6"/>
<text x="142.60" y="344.60" font-size="5.0" text-anchor="end" style="stroke-width:0.12px" transform="matrix(1 0.001 0 1 0 -0.1426)">Spliceosome</text>
<rect x="149.40" y="345.70" width="27.99" height="4.00" fill="#becde9"/>
<line x1="144.60" y1="347.70" x2="147.20" y2="347.70" stroke="#231f20" stroke-width="0.6"/>
<text x="142.60" y="349.45" font-size="5.0" text-anchor="end" style="stroke-width:0.12px" transform="matrix(1 0.001 0 1 0 -0.1426)">NF-kappa B signaling pathway</text>
<rect x="149.40" y="350.55" width="16.17" height="4.00" fill="#efbbac"/>
<line x1="144.60" y1="352.55" x2="147.20" y2="352.55" stroke="#231f20" stroke-width="0.6"/>
<text x="142.60" y="354.30" font-size="5.0" text-anchor="end" style="stroke-width:0.12px" transform="matrix(1 0.001 0 1 0 -0.1426)">DNA replication</text>
<rect x="149.40" y="355.40" width="95.78" height="4.00" fill="#c0cee9"/>
<line x1="144.60" y1="357.40" x2="147.20" y2="357.40" stroke="#231f20" stroke-width="0.6"/>
<text x="142.60" y="359.15" font-size="5.0" text-anchor="end" style="stroke-width:0.12px" transform="matrix(1 0.001 0 1 0 -0.1426)">Amyotrophic lateral sclerosis</text>
<rect x="149.40" y="360.25" width="34.36" height="4.00" fill="#c1cfea"/>
<line x1="144.60" y1="362.25" x2="147.20" y2="362.25" stroke="#231f20" stroke-width="0.6"/>
<text x="142.60" y="364.00" font-size="5.0" text-anchor="end" style="stroke-width:0.12px" transform="matrix(1 0.001 0 1 0 -0.1426)">T cell receptor signaling pathway</text>
<rect x="149.40" y="365.10" width="68.38" height="4.00" fill="#c2d0ea"/>
<line x1="144.60" y1="367.10" x2="147.20" y2="367.10" stroke="#231f20" stroke-width="0.6"/>
<text x="142.60" y="368.85" font-size="5.0" text-anchor="end" style="stroke-width:0.12px" transform="matrix(1 0.001 0 1 0 -0.1426)">Human T-cell leukemia virus 1 infection</text>
<rect x="149.40" y="369.95" width="27.99" height="4.00" fill="#c4d1ea"/>
<line x1="144.60" y1="371.95" x2="147.20" y2="371.95" stroke="#231f20" stroke-width="0.6"/>
<text x="142.60" y="373.70" font-size="5.0" text-anchor="end" style="stroke-width:0.12px" transform="matrix(1 0.001 0 1 0 -0.1426)">Sphingolipid signaling pathway</text>
<rect x="149.40" y="374.80" width="43.91" height="4.00" fill="#f1c2b4"/>
<line x1="144.60" y1="376.80" x2="147.20" y2="376.80" stroke="#231f20" stroke-width="0.6"/>
<text x="142.60" y="378.55" font-size="5.0" text-anchor="end" style="stroke-width:0.12px" transform="matrix(1 0.001 0 1 0 -0.1426)">Thyroid hormone signaling pathway</text>
<rect x="149.40" y="379.65" width="31.42" height="4.00" fill="#c6d2eb"/>
<line x1="144.60" y1="381.65" x2="147.20" y2="381.65" stroke="#231f20" stroke-width="0.6"/>
<text x="142.60" y="383.40" font-size="5.0" text-anchor="end" style="stroke-width:0.12px" transform="matrix(1 0.001 0 1 0 -0.1426)">Oxytocin signaling pathway</text>
<rect x="149.40" y="384.50" width="37.88" height="4.00" fill="#c7d3eb"/>
<line x1="144.60" y1="386.50" x2="147.20" y2="386.50" stroke="#231f20" stroke-width="0.6"/>
<text x="142.60" y="388.25" font-size="5.0" text-anchor="end" style="stroke-width:0.12px" transform="matrix(1 0.001 0 1 0 -0.1426)">Platelet activation</text>
<rect x="149.40" y="389.35" width="44.83" height="4.00" fill="#c8d4ec"/>
<line x1="144.60" y1="391.35" x2="147.20" y2="391.35" stroke="#231f20" stroke-width="0.6"/>
<text x="142.60" y="393.10" font-size="5.0" text-anchor="end" style="stroke-width:0.12px" transform="matrix(1 0.001 0 1 0 -0.1426)">Neurotrophin signaling pathway</text>
<rect x="149.40" y="394.20" width="16.17" height="4.00" fill="#c9d5ec"/>
<line x1="144.60" y1="396.20" x2="147.20" y2="396.20" stroke="#231f20" stroke-width="0.6"/>
<text x="142.60" y="397.95" font-size="5.0" text-anchor="end" style="stroke-width:0.12px" transform="matrix(1 0.001 0 1 0 -0.1426)">Melanoma</text>
<rect x="149.40" y="399.05" width="12.99" height="4.00" fill="#cad6ec"/>
<line x1="144.60" y1="401.05" x2="147.20" y2="401.05" stroke="#231f20" stroke-width="0.6"/>
<text x="142.60" y="402.80" font-size="5.0" text-anchor="end" style="stroke-width:0.12px" transform="matrix(1 0.001 0 1 0 -0.1426)">Glycolysis/Gluconeogenesis</text>
<rect x="149.40" y="403.90" width="2.60" height="4.00" fill="#cbd6ec"/>
<line x1="144.60" y1="405.90" x2="147.20" y2="405.90" stroke="#231f20" stroke-width="0.6"/>
<text x="142.60" y="407.65" font-size="5.0" text-anchor="end" style="stroke-width:0.12px" transform="matrix(1 0.001 0 1 0 -0.1426)">Protein digestion and absorption</text>
<rect x="149.40" y="408.75" width="15.34" height="4.00" fill="#f4ccbe"/>
<line x1="144.60" y1="410.75" x2="147.20" y2="410.75" stroke="#231f20" stroke-width="0.6"/>
<text x="142.60" y="412.50" font-size="5.0" text-anchor="end" style="stroke-width:0.12px" transform="matrix(1 0.001 0 1 0 -0.1426)">Leishmaniasis</text>
<rect x="149.40" y="413.60" width="39.80" height="4.00" fill="#cdd8ed"/>
<line x1="144.60" y1="415.60" x2="147.20" y2="415.60" stroke="#231f20" stroke-width="0.6"/>
<text x="142.60" y="417.35" font-size="5.0" text-anchor="end" style="stroke-width:0.12px" transform="matrix(1 0.001 0 1 0 -0.1426)">cAMP signaling pathway</text>
<rect x="149.40" y="418.45" width="23.13" height="4.00" fill="#f5cfc1"/>
<line x1="144.60" y1="420.45" x2="147.20" y2="420.45" stroke="#231f20" stroke-width="0.6"/>
<text x="142.60" y="422.20" font-size="5.0" text-anchor="end" style="stroke-width:0.12px" textLength="117.30" lengthAdjust="spacingAndGlyphs" transform="matrix(1 0.001 0 1 0 -0.1426)">AGE-RAGE signaling pathway in diabetic complications</text>
<rect x="149.40" y="423.30" width="71.57" height="4.00" fill="#cfdaee"/>
<line x1="144.60" y1="425.30" x2="147.20" y2="425.30" stroke="#231f20" stroke-width="0.6"/>
<text x="142.60" y="427.05" font-size="5.0" text-anchor="end" style="stroke-width:0.12px" transform="matrix(1 0.001 0 1 0 -0.1426)">Salmonella infection</text>
<rect x="149.40" y="428.15" width="20.36" height="4.00" fill="#d0dbee"/>
<line x1="144.60" y1="430.15" x2="147.20" y2="430.15" stroke="#231f20" stroke-width="0.6"/>
<text x="142.60" y="431.90" font-size="5.0" text-anchor="end" style="stroke-width:0.12px" transform="matrix(1 0.001 0 1 0 -0.1426)">Prolactin signaling pathway</text>
<rect x="149.40" y="433.00" width="39.80" height="4.00" fill="#d1dbee"/>
<line x1="144.60" y1="435.00" x2="147.20" y2="435.00" stroke="#231f20" stroke-width="0.6"/>
<text x="142.60" y="436.75" font-size="5.0" text-anchor="end" style="stroke-width:0.12px" transform="matrix(1 0.001 0 1 0 -0.1426)">Ribosome biogenesis in eukaryotes</text>
<rect x="149.40" y="437.85" width="30.34" height="4.00" fill="#d2dcef"/>
<line x1="144.60" y1="439.85" x2="147.20" y2="439.85" stroke="#231f20" stroke-width="0.6"/>
<text x="142.60" y="441.60" font-size="5.0" text-anchor="end" style="stroke-width:0.12px" transform="matrix(1 0.001 0 1 0 -0.1426)">Phospholipase D signaling pathway</text>
<rect x="149.40" y="442.70" width="37.21" height="4.00" fill="#d4ddef"/>
<line x1="144.60" y1="444.70" x2="147.20" y2="444.70" stroke="#231f20" stroke-width="0.6"/>
<text x="142.60" y="446.45" font-size="5.0" text-anchor="end" style="stroke-width:0.12px" transform="matrix(1 0.001 0 1 0 -0.1426)">Fc gamma R-mediated phagocytosis</text>
<rect x="149.40" y="447.55" width="40.39" height="4.00" fill="#d5deef"/>
<line x1="144.60" y1="449.55" x2="147.20" y2="449.55" stroke="#231f20" stroke-width="0.6"/>
<text x="142.60" y="451.30" font-size="5.0" text-anchor="end" style="stroke-width:0.12px" transform="matrix(1 0.001 0 1 0 -0.1426)">NOD-like receptor signaling pathway</text>
<rect x="149.40" y="452.40" width="23.63" height="4.00" fill="#d6dff0"/>
<line x1="144.60" y1="454.40" x2="147.20" y2="454.40" stroke="#231f20" stroke-width="0.6"/>
<text x="142.60" y="456.15" font-size="5.0" text-anchor="end" style="stroke-width:0.12px" transform="matrix(1 0.001 0 1 0 -0.1426)">GnRH signaling pathway</text>
<rect x="149.40" y="457.25" width="40.39" height="4.00" fill="#d7e0f0"/>
<line x1="144.60" y1="459.25" x2="147.20" y2="459.25" stroke="#231f20" stroke-width="0.6"/>
<text x="142.60" y="461.00" font-size="5.0" text-anchor="end" style="stroke-width:0.12px" transform="matrix(1 0.001 0 1 0 -0.1426)">Chemokine signaling pathway</text>
<rect x="149.40" y="462.10" width="33.77" height="4.00" fill="#f8dbce"/>
<line x1="144.60" y1="464.10" x2="147.20" y2="464.10" stroke="#231f20" stroke-width="0.6"/>
<text x="142.60" y="465.85" font-size="5.0" text-anchor="end" style="stroke-width:0.12px" transform="matrix(1 0.001 0 1 0 -0.1426)">HIF-1 signaling pathway</text>
<rect x="149.40" y="466.95" width="80.62" height="4.00" fill="#d9e1f1"/>
<line x1="144.60" y1="468.95" x2="147.20" y2="468.95" stroke="#231f20" stroke-width="0.6"/>
<text x="142.60" y="470.70" font-size="5.0" text-anchor="end" style="stroke-width:0.12px" transform="matrix(1 0.001 0 1 0 -0.1426)">MAPK signaling pathway</text>
<rect x="149.40" y="471.80" width="14.41" height="4.00" fill="#dae2f1"/>
<line x1="144.60" y1="473.80" x2="147.20" y2="473.80" stroke="#231f20" stroke-width="0.6"/>
<text x="142.60" y="475.55" font-size="5.0" text-anchor="end" style="stroke-width:0.12px" transform="matrix(1 0.001 0 1 0 -0.1426)">Long-term depression</text>
<line x1="147.20" y1="266.50" x2="147.20" y2="477.70" stroke="#231f20" stroke-width="1.0"/>
<line x1="146.70" y1="477.50" x2="254.60" y2="477.50" stroke="#231f20" stroke-width="1.0"/>
<line x1="149.40" y1="477.50" x2="149.40" y2="480.60" stroke="#231f20" stroke-width="0.9"/>
<text x="149.40" y="489.00" font-size="7.0" text-anchor="middle" transform="matrix(1 0.001 0 1 0 -0.1494)">0</text>
<line x1="191.30" y1="477.50" x2="191.30" y2="480.60" stroke="#231f20" stroke-width="0.9"/>
<text x="191.30" y="489.00" font-size="7.0" text-anchor="middle" transform="matrix(1 0.001 0 1 0 -0.1913)">50</text>
<line x1="233.20" y1="477.50" x2="233.20" y2="480.60" stroke="#231f20" stroke-width="0.9"/>
<text x="233.20" y="489.00" font-size="7.0" text-anchor="middle" transform="matrix(1 0.001 0 1 0 -0.2332)">100</text>
<text x="200.30" y="499.50" font-size="8.7" text-anchor="middle" style="stroke-width:0.45px" textLength="53.90" lengthAdjust="spacingAndGlyphs" transform="matrix(1 0.001 0 1 0 -0.2003)">Number of proteins</text>
<text x="15.50" y="372.00" font-size="7.4" text-anchor="middle" style="stroke-width:0.45px" textLength="45.00" lengthAdjust="spacingAndGlyphs" transform="rotate(-90 15.50 372.00) matrix(1 0.001 0 1 0 -0.0155)">KEGG pathways</text>
<text x="221.00" y="370.40" font-size="5.2" text-anchor="start" style="stroke-width:0.12px" transform="matrix(1 0.001 0 1 0 -0.2210)">Direction</text>
<rect x="221.00" y="373.60" width="3.80" height="3.10" fill="#0d4a85"/>
<text x="226.20" y="377.10" font-size="5.2" text-anchor="start" style="stroke-width:0.12px" transform="matrix(1 0.001 0 1 0 -0.2262)">Up in BCR-ABL1</text>
<rect x="221.00" y="379.80" width="3.80" height="3.20" fill="#c8102e"/>
<text x="226.20" y="383.20" font-size="5.2" text-anchor="start" style="stroke-width:0.12px" transform="matrix(1 0.001 0 1 0 -0.2262)">Up in SFPQ-ABL1</text>
<text x="221.00" y="392.00" font-size="5.2" text-anchor="start" style="stroke-width:0.12px" transform="matrix(1 0.001 0 1 0 -0.2210)">−log10(PVal)</text>
<rect x="221.00" y="394.70" width="3.80" height="3.20" fill="#d9d9d9"/>
<text x="226.40" y="398.10" font-size="5.2" text-anchor="start" style="stroke-width:0.12px" transform="matrix(1 0.001 0 1 0 -0.2264)">1.5</text>
<rect x="221.00" y="400.05" width="3.80" height="3.20" fill="#b8b8b8"/>
<text x="226.40" y="403.45" font-size="5.2" text-anchor="start" style="stroke-width:0.12px" transform="matrix(1 0.001 0 1 0 -0.2264)">2.0</text>
<rect x="221.00" y="405.40" width="3.80" height="3.20" fill="#999999"/>
<text x="226.40" y="408.80" font-size="5.2" text-anchor="start" style="stroke-width:0.12px" transform="matrix(1 0.001 0 1 0 -0.2264)">2.5</text>
<rect x="221.00" y="410.75" width="3.80" height="3.20" fill="#6e6e6e"/>
<text x="226.40" y="414.15" font-size="5.2" text-anchor="start" style="stroke-width:0.12px" transform="matrix(1 0.001 0 1 0 -0.2264)">3.0</text>
<rect x="221.00" y="416.10" width="3.80" height="3.20" fill="#4a4a4a"/>
<text x="226.40" y="419.50" font-size="5.2" text-anchor="start" style="stroke-width:0.12px" transform="matrix(1 0.001 0 1 0 -0.2264)">3.5</text>
<text x="8.80" y="521.20" font-size="11.2" text-anchor="start" font-weight="bold" fill="#000" transform="matrix(1 0.001 0 1 0 -0.0088)">F</text>
<text x="146.50" y="530.50" font-size="8.0" text-anchor="middle" textLength="57.60" lengthAdjust="spacingAndGlyphs" transform="matrix(1 0.001 0 1 0 -0.1465)">KEGG cell cycle</text>
<text x="145.35" y="540.90" font-size="7.4" text-anchor="middle" textLength="63.10" lengthAdjust="spacingAndGlyphs" transform="matrix(1 0.001 0 1 0 -0.1454)">P-value = 7.20e-26</text>
<line x1="34.20" y1="531.10" x2="34.20" y2="556.30" stroke="#000" stroke-width="0.9"/>
<line x1="31.40" y1="531.10" x2="34.20" y2="531.10" stroke="#000" stroke-width="0.9"/>
<line x1="31.40" y1="556.30" x2="34.20" y2="556.30" stroke="#000" stroke-width="0.9"/>
<text x="27.30" y="531.10" font-size="4.6" text-anchor="middle" style="stroke-width:0.12px" transform="rotate(-90 27.30 531.10) matrix(1 0.001 0 1 0 -0.0273)">3.2</text>
<text x="27.30" y="556.00" font-size="4.6" text-anchor="middle" style="stroke-width:0.12px" transform="rotate(-90 27.30 556.00) matrix(1 0.001 0 1 0 -0.0273)">0</text>
<text x="17.50" y="544.00" font-size="6.6" text-anchor="middle" style="stroke-width:0.02px" textLength="21.70" lengthAdjust="spacingAndGlyphs" transform="rotate(-90 17.50 544.00) matrix(1 0.001 0 1 0 -0.0175)">Enrichment</text>
<line x1="34.20" y1="548.50" x2="258.30" y2="548.50" stroke="#000" stroke-width="1.0" stroke-dasharray="1.5 1.1"/>
<path d="M42.4,556.2 C70,556.1 100,555.9 122,555.1 C140,553.6 150,551.5 163,548.6 C178,545.3 194,541.2 209,536.8 C222,533.3 236,531.4 249.6,531.0" fill="none" stroke="#ef4b56" stroke-width="0.9"/>
<line x1="34.20" y1="558.60" x2="34.20" y2="571.20" stroke="#000" stroke-width="0.9"/>
<line x1="31.40" y1="558.60" x2="34.20" y2="558.60" stroke="#000" stroke-width="0.9"/>
<line x1="31.40" y1="571.20" x2="34.20" y2="571.20" stroke="#000" stroke-width="0.9"/>
<text x="30.40" y="558.90" font-size="4.4" text-anchor="middle" style="stroke-width:0.12px" transform="rotate(-90 30.40 558.90) matrix(1 0.001 0 1 0 -0.0304)">1.1</text>
<text x="30.40" y="571.20" font-size="4.4" text-anchor="middle" style="stroke-width:0.12px" transform="rotate(-90 30.40 571.20) matrix(1 0.001 0 1 0 -0.0304)">0</text>
<text x="26.40" y="565.70" font-size="4.8" text-anchor="middle" style="stroke-width:0.12px" textLength="10.70" lengthAdjust="spacingAndGlyphs" transform="rotate(-90 26.40 565.70) matrix(1 0.001 0 1 0 -0.0264)">Stats</text>
<rect x="42.90" y="573.80" width="207.10" height="25.20" fill="#d4d4d6"/>
<rect x="42.90" y="573.80" width="12.40" height="25.20" fill="#74c5ea"/>
<rect x="233.10" y="573.80" width="16.90" height="25.20" fill="#e98fa3"/>
<rect x="140.05" y="573.6" width="0.9" height="13.1" fill="#c8163a" opacity="0.68"/>
<rect x="140.80" y="573.6" width="0.9" height="13.1" fill="#c8163a" opacity="0.61"/>
<rect x="143.30" y="573.6" width="0.9" height="13.1" fill="#c8163a" opacity="0.81"/>
<rect x="144.05" y="573.6" width="0.9" height="13.1" fill="#c8163a" opacity="0.58"/>
<rect x="145.05" y="573.6" width="0.9" height="13.1" fill="#c8163a" opacity="0.76"/>
<rect x="148.30" y="573.6" width="0.9" height="13.1" fill="#c8163a" opacity="0.70"/>
<rect x="150.05" y="573.6" width="0.9" height="13.1" fill="#c8163a" opacity="0.57"/>
<rect x="154.55" y="573.6" width="0.9" height="13.1" fill="#c8163a" opacity="0.75"/>
<rect x="156.55" y="573.6" width="0.9" height="13.1" fill="#c8163a" opacity="0.56"/>
<rect x="161.55" y="573.6" width="0.9" height="13.1" fill="#c8163a" opacity="0.72"/>
<rect x="162.55" y="573.6" width="0.9" height="13.1" fill="#c8163a" opacity="0.58"/>
<rect x="169.05" y="573.6" width="0.9" height="13.1" fill="#c8163a" opacity="0.59"/>
<rect x="170.05" y="573.6" width="0.9" height="13.1" fill="#c8163a" opacity="0.72"/>
<rect x="171.30" y="573.6" width="0.9" height="13.1" fill="#c8163a" opacity="0.88"/>
<rect x="172.55" y="573.6" width="0.9" height="13.1" fill="#c8163a" opacity="0.60"/>
<rect x="174.05" y="573.6" width="0.9" height="13.1" fill="#c8163a" opacity="0.64"/>
<rect x="175.05" y="573.6" width="0.9" height="13.1" fill="#c8163a" opacity="0.80"/>
<rect x="177.55" y="573.6" width="0.9" height="13.1" fill="#c8163a" opacity="0.93"/>
<rect x="179.55" y="573.6" width="0.9" height="13.1" fill="#c8163a" opacity="0.78"/>
<rect x="182.55" y="573.6" width="0.9" height="13.1" fill="#c8163a" opacity="0.71"/>
<rect x="184.05" y="573.6" width="0.9" height="13.1" fill="#c8163a" opacity="0.94"/>
<rect x="185.80" y="573.6" width="0.9" height="13.1" fill="#c8163a" opacity="0.57"/>
<rect x="187.55" y="573.6" width="0.9" height="13.1" fill="#c8163a" opacity="0.89"/>
<rect x="189.55" y="573.6" width="0.9" height="13.1" fill="#c8163a" opacity="0.67"/>
<rect x="190.80" y="573.6" width="0.9" height="13.1" fill="#c8163a" opacity="0.61"/>
<rect x="192.55" y="573.6" width="0.9" height="13.1" fill="#c8163a" opacity="0.60"/>
<rect x="195.05" y="573.6" width="0.9" height="13.1" fill="#c8163a" opacity="0.67"/>
<rect x="197.05" y="573.6" width="0.9" height="13.1" fill="#c8163a" opacity="0.88"/>
<rect x="199.05" y="573.6" width="0.9" height="13.1" fill="#c8163a" opacity="0.62"/>
<rect x="202.05" y="573.6" width="0.9" height="13.1" fill="#c8163a" opacity="0.78"/>
<rect x="204.55" y="573.6" width="0.9" height="13.1" fill="#c8163a" opacity="0.81"/>
<rect x="205.80" y="573.6" width="0.9" height="13.1" fill="#c8163a" opacity="0.70"/>
<rect x="209.05" y="573.6" width="0.9" height="13.1" fill="#c8163a" opacity="0.77"/>
<rect x="210.80" y="573.6" width="0.9" height="13.1" fill="#c8163a" opacity="0.58"/>
<rect x="212.05" y="573.6" width="0.9" height="13.1" fill="#c8163a" opacity="0.57"/>
<rect x="215.05" y="573.6" width="0.9" height="13.1" fill="#c8163a" opacity="0.63"/>
<rect x="216.55" y="573.6" width="0.9" height="13.1" fill="#c8163a" opacity="0.82"/>
<rect x="222.55" y="573.6" width="0.9" height="13.1" fill="#c8163a" opacity="0.72"/>
<rect x="224.05" y="573.6" width="0.9" height="13.1" fill="#c8163a" opacity="0.68"/>
<rect x="225.80" y="573.6" width="0.9" height="13.1" fill="#c8163a" opacity="0.78"/>
<rect x="227.55" y="573.6" width="0.9" height="13.1" fill="#c8163a" opacity="0.73"/>
<rect x="229.05" y="573.6" width="0.9" height="13.1" fill="#c8163a" opacity="0.67"/>
<rect x="230.80" y="573.6" width="0.9" height="13.1" fill="#c8163a" opacity="0.87"/>
<rect x="234.05" y="573.6" width="0.9" height="13.1" fill="#c8163a" opacity="0.83"/>
<rect x="235.05" y="573.6" width="0.9" height="13.1" fill="#c8163a" opacity="0.65"/>
<rect x="236.55" y="573.6" width="0.9" height="13.1" fill="#c8163a" opacity="0.78"/>
<rect x="237.55" y="573.6" width="0.9" height="13.1" fill="#c8163a" opacity="0.76"/>
<rect x="239.55" y="573.6" width="0.9" height="13.1" fill="#c8163a" opacity="0.90"/>
<rect x="241.55" y="573.6" width="0.9" height="13.1" fill="#c8163a" opacity="0.84"/>
<rect x="243.30" y="573.6" width="0.9" height="13.1" fill="#c8163a" opacity="0.67"/>
<rect x="245.80" y="573.6" width="0.9" height="13.1" fill="#c8163a" opacity="0.94"/>
<rect x="140.52" y="570.46" width="0.5" height="1.74" fill="#d22d55" opacity="0.75"/>
<rect x="142.83" y="570.46" width="0.5" height="1.74" fill="#d22d55" opacity="0.75"/>
<rect x="145.14" y="570.00" width="0.5" height="2.20" fill="#d22d55" opacity="0.75"/>
<rect x="156.67" y="566.31" width="0.5" height="5.89" fill="#d22d55" opacity="0.75"/>
<rect x="160.60" y="568.62" width="0.5" height="3.58" fill="#d22d55" opacity="0.75"/>
<rect x="169.37" y="568.62" width="0.5" height="3.58" fill="#d22d55" opacity="0.75"/>
<rect x="171.68" y="568.62" width="0.5" height="3.58" fill="#d22d55" opacity="0.75"/>
<rect x="174.45" y="568.16" width="0.5" height="4.04" fill="#d22d55" opacity="0.75"/>
<rect x="177.45" y="567.00" width="0.5" height="5.20" fill="#d22d55" opacity="0.75"/>
<rect x="179.75" y="568.16" width="0.5" height="4.04" fill="#d22d55" opacity="0.75"/>
<rect x="182.06" y="567.69" width="0.5" height="4.51" fill="#d22d55" opacity="0.75"/>
<rect x="184.37" y="567.69" width="0.5" height="4.51" fill="#d22d55" opacity="0.75"/>
<rect x="188.29" y="567.00" width="0.5" height="5.20" fill="#d22d55" opacity="0.75"/>
<rect x="191.29" y="568.62" width="0.5" height="3.58" fill="#d22d55" opacity="0.75"/>
<rect x="195.22" y="568.16" width="0.5" height="4.04" fill="#d22d55" opacity="0.75"/>
<rect x="198.91" y="567.69" width="0.5" height="4.51" fill="#d22d55" opacity="0.75"/>
<rect x="202.14" y="566.31" width="0.5" height="5.89" fill="#d22d55" opacity="0.75"/>
<rect x="206.76" y="567.69" width="0.5" height="4.51" fill="#d22d55" opacity="0.75"/>
<rect x="208.60" y="566.31" width="0.5" height="5.89" fill="#d22d55" opacity="0.75"/>
<rect x="210.91" y="564.69" width="0.5" height="7.51" fill="#d22d55" opacity="0.75"/>
<rect x="212.76" y="565.39" width="0.5" height="6.81" fill="#d22d55" opacity="0.75"/>
<rect x="213.68" y="564.00" width="0.5" height="8.20" fill="#d22d55" opacity="0.75"/>
<rect x="216.68" y="563.08" width="0.5" height="9.12" fill="#d22d55" opacity="0.75"/>
<rect x="221.30" y="567.00" width="0.5" height="5.20" fill="#d22d55" opacity="0.75"/>
<rect x="224.76" y="563.54" width="0.5" height="8.66" fill="#d22d55" opacity="0.75"/>
<rect x="226.60" y="562.39" width="0.5" height="9.81" fill="#d22d55" opacity="0.75"/>
<rect x="228.22" y="561.69" width="0.5" height="10.51" fill="#d22d55" opacity="0.75"/>
<rect x="230.53" y="563.08" width="0.5" height="9.12" fill="#d22d55" opacity="0.75"/>
<rect x="234.45" y="558.92" width="0.5" height="13.28" fill="#d22d55" opacity="0.75"/>
<rect x="236.30" y="563.54" width="0.5" height="8.66" fill="#d22d55" opacity="0.75"/>
<rect x="237.45" y="564.69" width="0.5" height="7.51" fill="#d22d55" opacity="0.75"/>
<rect x="240.45" y="566.31" width="0.5" height="5.89" fill="#d22d55" opacity="0.75"/>
<rect x="242.76" y="565.39" width="0.5" height="6.81" fill="#d22d55" opacity="0.75"/>
<rect x="245.53" y="561.23" width="0.5" height="10.97" fill="#d22d55" opacity="0.75"/>
<rect x="48.00" y="586.6" width="1.0" height="12.4" fill="#3f74a6" opacity="0.6"/>
<rect x="48.05" y="602.0" width="0.9" height="9.60" fill="#86b4de" opacity="0.85"/>
<rect x="56.00" y="586.6" width="1.0" height="12.4" fill="#3f74a6" opacity="0.6"/>
<rect x="56.05" y="602.0" width="0.9" height="7.70" fill="#86b4de" opacity="0.85"/>
<rect x="69.70" y="586.6" width="1.0" height="12.4" fill="#3f74a6" opacity="0.6"/>
<rect x="69.75" y="602.0" width="0.9" height="2.60" fill="#86b4de" opacity="0.85"/>
<rect x="76.10" y="586.6" width="1.0" height="12.4" fill="#3f74a6" opacity="0.6"/>
<rect x="76.15" y="602.0" width="0.9" height="4.00" fill="#86b4de" opacity="0.85"/>
<rect x="76.70" y="586.6" width="1.0" height="12.4" fill="#3f74a6" opacity="0.6"/>
<rect x="76.75" y="602.0" width="0.9" height="6.30" fill="#86b4de" opacity="0.85"/>
<rect x="82.90" y="586.6" width="1.0" height="12.4" fill="#3f74a6" opacity="0.6"/>
<rect x="82.95" y="602.0" width="0.9" height="2.50" fill="#86b4de" opacity="0.85"/>
<rect x="83.90" y="586.6" width="1.0" height="12.4" fill="#3f74a6" opacity="0.6"/>
<rect x="83.95" y="602.0" width="0.9" height="2.30" fill="#86b4de" opacity="0.85"/>
<rect x="85.00" y="586.6" width="1.0" height="12.4" fill="#3f74a6" opacity="0.6"/>
<rect x="85.05" y="602.0" width="0.9" height="2.70" fill="#86b4de" opacity="0.85"/>
<rect x="86.50" y="586.6" width="1.0" height="12.4" fill="#3f74a6" opacity="0.6"/>
<rect x="86.55" y="602.0" width="0.9" height="2.00" fill="#86b4de" opacity="0.85"/>
<rect x="99.80" y="586.6" width="1.0" height="12.4" fill="#3f74a6" opacity="0.6"/>
<rect x="99.85" y="602.0" width="0.9" height="2.00" fill="#86b4de" opacity="0.85"/>
<rect x="100.80" y="586.6" width="1.0" height="12.4" fill="#3f74a6" opacity="0.6"/>
<rect x="100.85" y="602.0" width="0.9" height="3.00" fill="#86b4de" opacity="0.85"/>
<rect x="101.90" y="586.6" width="1.0" height="12.4" fill="#3f74a6" opacity="0.6"/>
<rect x="101.95" y="602.0" width="0.9" height="3.50" fill="#86b4de" opacity="0.85"/>
<rect x="103.00" y="586.6" width="1.0" height="12.4" fill="#3f74a6" opacity="0.6"/>
<rect x="103.05" y="602.0" width="0.9" height="2.50" fill="#86b4de" opacity="0.85"/>
<rect x="105.10" y="586.6" width="1.0" height="12.4" fill="#3f74a6" opacity="0.6"/>
<rect x="105.15" y="602.0" width="0.9" height="4.60" fill="#86b4de" opacity="0.85"/>
<rect x="106.80" y="586.6" width="1.0" height="12.4" fill="#3f74a6" opacity="0.6"/>
<rect x="106.85" y="602.0" width="0.9" height="3.80" fill="#86b4de" opacity="0.85"/>
<rect x="107.60" y="586.6" width="1.0" height="12.4" fill="#3f74a6" opacity="0.6"/>
<rect x="107.65" y="602.0" width="0.9" height="2.60" fill="#86b4de" opacity="0.85"/>
<rect x="116.10" y="586.6" width="1.0" height="12.4" fill="#3f74a6" opacity="0.6"/>
<rect x="116.15" y="602.0" width="0.9" height="1.60" fill="#86b4de" opacity="0.85"/>
<rect x="119.50" y="586.6" width="1.0" height="12.4" fill="#3f74a6" opacity="0.6"/>
<rect x="119.55" y="602.0" width="0.9" height="2.30" fill="#86b4de" opacity="0.85"/>
<rect x="120.10" y="586.6" width="1.0" height="12.4" fill="#3f74a6" opacity="0.6"/>
<rect x="120.15" y="602.0" width="0.9" height="1.60" fill="#86b4de" opacity="0.85"/>
<rect x="124.10" y="586.6" width="1.0" height="12.4" fill="#3f74a6" opacity="0.6"/>
<rect x="124.15" y="602.0" width="0.9" height="1.30" fill="#86b4de" opacity="0.85"/>
<rect x="125.20" y="586.6" width="1.0" height="12.4" fill="#3f74a6" opacity="0.6"/>
<rect x="125.25" y="602.0" width="0.9" height="1.10" fill="#86b4de" opacity="0.85"/>
<rect x="126.70" y="586.6" width="1.0" height="12.4" fill="#3f74a6" opacity="0.6"/>
<rect x="126.75" y="602.0" width="0.9" height="1.30" fill="#86b4de" opacity="0.85"/>
<text x="40.50" y="587.60" font-size="4.9" text-anchor="middle" style="stroke-width:0.12px" textLength="36.20" lengthAdjust="spacingAndGlyphs" transform="rotate(-90 40.50 587.60) matrix(1 0.001 0 1 0 -0.0405)">Up in BCR-ABL1</text>
<text x="256.00" y="587.50" font-size="4.9" text-anchor="middle" style="stroke-width:0.12px" textLength="39.70" lengthAdjust="spacingAndGlyphs" transform="rotate(-90 256.00 587.50) matrix(1 0.001 0 1 0 -0.2560)">Up in SFPQ-ABL1</text>
<line x1="34.20" y1="601.90" x2="34.20" y2="614.60" stroke="#000" stroke-width="0.9"/>
<line x1="31.40" y1="601.90" x2="34.20" y2="601.90" stroke="#000" stroke-width="0.9"/>
<line x1="31.40" y1="614.60" x2="34.20" y2="614.60" stroke="#000" stroke-width="0.9"/>
<text x="30.40" y="601.90" font-size="4.4" text-anchor="middle" style="stroke-width:0.12px" transform="rotate(-90 30.40 601.90) matrix(1 0.001 0 1 0 -0.0304)">0</text>
<text x="30.40" y="614.40" font-size="4.4" text-anchor="middle" style="stroke-width:0.12px" transform="rotate(-90 30.40 614.40) matrix(1 0.001 0 1 0 -0.0304)">1.1</text>
<text x="26.40" y="608.30" font-size="4.8" text-anchor="middle" style="stroke-width:0.12px" textLength="10.70" lengthAdjust="spacingAndGlyphs" transform="rotate(-90 26.40 608.30) matrix(1 0.001 0 1 0 -0.0264)">Stats</text>
<line x1="34.20" y1="617.40" x2="34.20" y2="642.30" stroke="#000" stroke-width="0.9"/>
<line x1="31.40" y1="617.40" x2="34.20" y2="617.40" stroke="#000" stroke-width="0.9"/>
<line x1="31.40" y1="642.30" x2="34.20" y2="642.30" stroke="#000" stroke-width="0.9"/>
<text x="27.30" y="617.60" font-size="4.6" text-anchor="middle" style="stroke-width:0.12px" transform="rotate(-90 27.30 617.60) matrix(1 0.001 0 1 0 -0.0273)">0</text>
<text x="27.30" y="642.30" font-size="4.6" text-anchor="middle" style="stroke-width:0.12px" transform="rotate(-90 27.30 642.30) matrix(1 0.001 0 1 0 -0.0273)">2.7</text>
<text x="17.50" y="630.00" font-size="6.6" text-anchor="middle" style="stroke-width:0.02px" textLength="21.70" lengthAdjust="spacingAndGlyphs" transform="rotate(-90 17.50 630.00) matrix(1 0.001 0 1 0 -0.0175)">Enrichment</text>
<line x1="34.20" y1="626.30" x2="258.30" y2="626.30" stroke="#000" stroke-width="1.0" stroke-dasharray="1.5 1.1"/>
<path d="M42.4,640.2 C48,641.6 52,642.3 58,642.3 C68,642.3 76,641.9 84.6,641.4 C92,640.9 96,639.8 100,638.2 C106,635.6 110,632.8 114,631.0 C120,628.4 124,626.9 128,625.6 C134,623.4 138,621.6 144,619.6 C150,617.8 155,617.1 162,616.9 L250,616.9" fill="none" stroke="#5b74c7" stroke-width="0.9"/>
<line x1="42.40" y1="646.90" x2="250.40" y2="646.90" stroke="#000" stroke-width="1.0"/>
<line x1="42.40" y1="646.90" x2="42.40" y2="650.00" stroke="#000" stroke-width="0.9"/>
<text x="41.10" y="657.00" font-size="6.4" text-anchor="middle" transform="matrix(1 0.001 0 1 0 -0.0411)">−8.0</text>
<line x1="63.20" y1="646.90" x2="63.20" y2="650.00" stroke="#000" stroke-width="0.9"/>
<text x="61.90" y="657.00" font-size="6.4" text-anchor="middle" transform="matrix(1 0.001 0 1 0 -0.0619)">−1.1</text>
<line x1="84.00" y1="646.90" x2="84.00" y2="650.00" stroke="#000" stroke-width="0.9"/>
<text x="82.70" y="657.00" font-size="6.4" text-anchor="middle" transform="matrix(1 0.001 0 1 0 -0.0827)">−0.7</text>
<line x1="104.80" y1="646.90" x2="104.80" y2="650.00" stroke="#000" stroke-width="0.9"/>
<text x="103.50" y="657.00" font-size="6.4" text-anchor="middle" transform="matrix(1 0.001 0 1 0 -0.1035)">−0.4</text>
<line x1="125.60" y1="646.90" x2="125.60" y2="650.00" stroke="#000" stroke-width="0.9"/>
<text x="124.30" y="657.00" font-size="6.4" text-anchor="middle" transform="matrix(1 0.001 0 1 0 -0.1243)">−0.1</text>
<line x1="146.40" y1="646.90" x2="146.40" y2="650.00" stroke="#000" stroke-width="0.9"/>
<text x="146.40" y="657.00" font-size="6.4" text-anchor="middle" transform="matrix(1 0.001 0 1 0 -0.1464)">0.2</text>
<line x1="167.20" y1="646.90" x2="167.20" y2="650.00" stroke="#000" stroke-width="0.9"/>
<text x="167.20" y="657.00" font-size="6.4" text-anchor="middle" transform="matrix(1 0.001 0 1 0 -0.1672)">0.4</text>
<line x1="188.00" y1="646.90" x2="188.00" y2="650.00" stroke="#000" stroke-width="0.9"/>
<text x="188.00" y="657.00" font-size="6.4" text-anchor="middle" transform="matrix(1 0.001 0 1 0 -0.1880)">0.6</text>
<line x1="208.80" y1="646.90" x2="208.80" y2="650.00" stroke="#000" stroke-width="0.9"/>
<text x="208.80" y="657.00" font-size="6.4" text-anchor="middle" transform="matrix(1 0.001 0 1 0 -0.2088)">0.9</text>
<line x1="229.60" y1="646.90" x2="229.60" y2="650.00" stroke="#000" stroke-width="0.9"/>
<text x="229.60" y="657.00" font-size="6.4" text-anchor="middle" transform="matrix(1 0.001 0 1 0 -0.2296)">1.3</text>
<line x1="250.40" y1="646.90" x2="250.40" y2="650.00" stroke="#000" stroke-width="0.9"/>
<text x="250.40" y="657.00" font-size="6.4" text-anchor="middle" transform="matrix(1 0.001 0 1 0 -0.2504)">7.7</text>
<text x="146.80" y="668.50" font-size="8.0" text-anchor="middle" style="stroke-width:0.45px" textLength="33.30" lengthAdjust="spacingAndGlyphs" transform="matrix(1 0.001 0 1 0 -0.1468)">Protein logFC</text>
<text x="267.40" y="521.40" font-size="11.2" text-anchor="start" font-weight="bold" fill="#000" transform="matrix(1 0.001 0 1 0 -0.2674)">G</text>
<circle cx="367.0" cy="589.6" r="78.0" fill="#b5c9da"/>
<circle cx="426.2" cy="589.8" r="78.3" fill="#eaa7b7"/>
<clipPath id="lc"><circle cx="367.0" cy="589.6" r="78.0"/></clipPath>
<circle cx="426.2" cy="589.8" r="78.3" fill="#cb8fa1" clip-path="url(#lc)"/>
<text x="290.30" y="523.60" font-size="6.0" text-anchor="start" textLength="29.10" lengthAdjust="spacingAndGlyphs" transform="matrix(1 0.001 0 1 0 -0.2903)">BCR-ABL1</text>
<text x="290.30" y="530.80" font-size="6.0" text-anchor="start" textLength="22.50" lengthAdjust="spacingAndGlyphs" transform="matrix(1 0.001 0 1 0 -0.2903)">enriched</text>
<text x="504.40" y="522.80" font-size="6.0" text-anchor="end" textLength="32.90" lengthAdjust="spacingAndGlyphs" transform="matrix(1 0.001 0 1 0 -0.5044)">SFPQ-ABL1</text>
<text x="504.40" y="530.40" font-size="6.0" text-anchor="end" textLength="22.60" lengthAdjust="spacingAndGlyphs" transform="matrix(1 0.001 0 1 0 -0.5044)">enriched</text>
<text x="307.8" y="574.65" font-size="6.8" transform="matrix(1 0.001 0 1 0 -0.3078)">p21<tspan font-size="4.2" dy="-2.6">Cip1</tspan></text>
<text x="307.80" y="583.05" font-size="6.8" text-anchor="start" transform="matrix(1 0.001 0 1 0 -0.3078)">CCND2</text>
<text x="307.80" y="591.45" font-size="6.8" text-anchor="start" transform="matrix(1 0.001 0 1 0 -0.3078)">MDM2</text>
<text x="307.80" y="599.75" font-size="6.8" text-anchor="start" transform="matrix(1 0.001 0 1 0 -0.3078)">CDC27</text>
<text x="307.80" y="608.05" font-size="6.8" text-anchor="start" transform="matrix(1 0.001 0 1 0 -0.3078)">ANAPC7</text>
<text x="396.80" y="527.17" font-size="5.2" text-anchor="middle" style="stroke-width:0.12px" transform="matrix(1 0.001 0 1 0 -0.3968)">APC5</text>
<text x="396.80" y="533.37" font-size="5.2" text-anchor="middle" style="stroke-width:0.12px" transform="matrix(1 0.001 0 1 0 -0.3968)">CDC16</text>
<text x="396.80" y="539.67" font-size="5.2" text-anchor="middle" style="stroke-width:0.12px" transform="matrix(1 0.001 0 1 0 -0.3968)">SMC3</text>
<text x="396.80" y="546.07" font-size="5.2" text-anchor="middle" style="stroke-width:0.12px" transform="matrix(1 0.001 0 1 0 -0.3968)">14-3-3 beta</text>
<text x="396.80" y="552.57" font-size="5.2" text-anchor="middle" style="stroke-width:0.12px" transform="matrix(1 0.001 0 1 0 -0.3968)">MCM6</text>
<text x="396.80" y="558.67" font-size="5.2" text-anchor="middle" style="stroke-width:0.12px" transform="matrix(1 0.001 0 1 0 -0.3968)">HDAC2</text>
<text x="396.80" y="565.27" font-size="5.2" text-anchor="middle" style="stroke-width:0.12px" transform="matrix(1 0.001 0 1 0 -0.3968)">14-3-3 theta</text>
<text x="396.80" y="571.87" font-size="5.2" text-anchor="middle" style="stroke-width:0.12px" transform="matrix(1 0.001 0 1 0 -0.3968)">Rb-like 2</text>
<text x="396.80" y="578.07" font-size="5.2" text-anchor="middle" style="stroke-width:0.12px" transform="matrix(1 0.001 0 1 0 -0.3968)">DNAPK</text>
<text x="396.80" y="584.67" font-size="5.2" text-anchor="middle" style="stroke-width:0.12px" transform="matrix(1 0.001 0 1 0 -0.3968)">CDC6</text>
<text x="396.80" y="591.07" font-size="5.2" text-anchor="middle" style="stroke-width:0.12px" transform="matrix(1 0.001 0 1 0 -0.3968)">14-3-3 gamma</text>
<text x="396.80" y="597.57" font-size="5.2" text-anchor="middle" style="stroke-width:0.12px" transform="matrix(1 0.001 0 1 0 -0.3968)">CDC26</text>
<text x="396.80" y="603.67" font-size="5.2" text-anchor="middle" style="stroke-width:0.12px" transform="matrix(1 0.001 0 1 0 -0.3968)">APC1</text>
<text x="396.80" y="610.37" font-size="5.2" text-anchor="middle" style="stroke-width:0.12px" transform="matrix(1 0.001 0 1 0 -0.3968)">BUB1B</text>
<text x="396.80" y="616.47" font-size="5.2" text-anchor="middle" style="stroke-width:0.12px" transform="matrix(1 0.001 0 1 0 -0.3968)">Rb-like 1</text>
<text x="396.80" y="623.07" font-size="5.2" text-anchor="middle" style="stroke-width:0.12px" transform="matrix(1 0.001 0 1 0 -0.3968)">TTK</text>
<text x="396.80" y="629.27" font-size="5.2" text-anchor="middle" style="stroke-width:0.12px" transform="matrix(1 0.001 0 1 0 -0.3968)">CCND3</text>
<text x="396.80" y="635.67" font-size="5.2" text-anchor="middle" style="stroke-width:0.12px" transform="matrix(1 0.001 0 1 0 -0.3968)">E2F4</text>
<text x="396.80" y="641.87" font-size="5.2" text-anchor="middle" style="stroke-width:0.12px" transform="matrix(1 0.001 0 1 0 -0.3968)">STAG2</text>
<text x="396.80" y="648.47" font-size="5.2" text-anchor="middle" style="stroke-width:0.12px" transform="matrix(1 0.001 0 1 0 -0.3968)">CCNH</text>
<text x="396.80" y="654.77" font-size="5.2" text-anchor="middle" style="stroke-width:0.12px" transform="matrix(1 0.001 0 1 0 -0.3968)">CDK7</text>
<text x="372.30" y="546.07" font-size="5.2" text-anchor="middle" style="stroke-width:0.12px" transform="matrix(1 0.001 0 1 0 -0.3723)">SMC1</text>
<text x="370.00" y="552.57" font-size="5.2" text-anchor="middle" style="stroke-width:0.12px" transform="matrix(1 0.001 0 1 0 -0.3700)">CCNE1</text>
<text x="370.00" y="558.67" font-size="5.2" text-anchor="middle" style="stroke-width:0.12px" transform="matrix(1 0.001 0 1 0 -0.3700)">14-3-3 zeta</text>
<text x="364.90" y="565.27" font-size="5.2" text-anchor="middle" style="stroke-width:0.12px" transform="matrix(1 0.001 0 1 0 -0.3649)">CCNE2</text>
<text x="350.40" y="584.67" font-size="5.2" text-anchor="start" style="stroke-width:0.12px" transform="matrix(1 0.001 0 1 0 -0.3504)">DBF4</text>
<text x="350.40" y="591.07" font-size="5.2" text-anchor="start" style="stroke-width:0.12px" transform="matrix(1 0.001 0 1 0 -0.3504)">CDK1</text>
<text x="350.40" y="597.57" font-size="5.2" text-anchor="start" style="stroke-width:0.12px" transform="matrix(1 0.001 0 1 0 -0.3504)">Myc</text>
<text x="364.20" y="616.47" font-size="5.2" text-anchor="middle" style="stroke-width:0.12px" transform="matrix(1 0.001 0 1 0 -0.3642)">SMAD3</text>
<text x="364.50" y="623.07" font-size="5.2" text-anchor="middle" style="stroke-width:0.12px" transform="matrix(1 0.001 0 1 0 -0.3645)">TFDP1</text>
<text x="368.80" y="629.27" font-size="5.2" text-anchor="middle" style="stroke-width:0.12px" transform="matrix(1 0.001 0 1 0 -0.3688)">MCM5</text>
<text x="371.70" y="635.67" font-size="5.2" text-anchor="middle" style="stroke-width:0.12px" transform="matrix(1 0.001 0 1 0 -0.3717)">E2F2</text>
<text x="421.80" y="545.87" font-size="5.2" text-anchor="middle" style="stroke-width:0.12px" transform="matrix(1 0.001 0 1 0 -0.4218)">CDK6</text>
<text x="421.90" y="552.47" font-size="5.2" text-anchor="middle" style="stroke-width:0.12px" transform="matrix(1 0.001 0 1 0 -0.4219)">PTTG1IP</text>
<text x="437.00" y="558.77" font-size="5.2" text-anchor="end" style="stroke-width:0.12px" transform="matrix(1 0.001 0 1 0 -0.4370)">Myt1</text>
<text x="437.00" y="565.17" font-size="5.2" text-anchor="end" style="stroke-width:0.12px" transform="matrix(1 0.001 0 1 0 -0.4370)">ATR</text>
<text x="443.60" y="583.97" font-size="5.2" text-anchor="end" style="stroke-width:0.12px" transform="matrix(1 0.001 0 1 0 -0.4436)">ATM</text>
<text x="443.60" y="590.57" font-size="5.2" text-anchor="end" style="stroke-width:0.12px" transform="matrix(1 0.001 0 1 0 -0.4436)">APC4</text>
<text x="443.60" y="596.87" font-size="5.2" text-anchor="end" style="stroke-width:0.12px" transform="matrix(1 0.001 0 1 0 -0.4436)">GSK3B</text>
<text x="431.10" y="616.27" font-size="5.2" text-anchor="middle" style="stroke-width:0.12px" transform="matrix(1 0.001 0 1 0 -0.4311)">STAG1</text>
<text x="427.80" y="623.07" font-size="5.2" text-anchor="middle" style="stroke-width:0.12px" transform="matrix(1 0.001 0 1 0 -0.4278)">CCNB2</text>
<text x="426.20" y="629.27" font-size="5.2" text-anchor="middle" style="stroke-width:0.12px" transform="matrix(1 0.001 0 1 0 -0.4262)">SKP2</text>
<text x="420.20" y="635.17" font-size="5.2" text-anchor="middle" style="stroke-width:0.12px" transform="matrix(1 0.001 0 1 0 -0.4202)">ORC6L</text>
<text x="408.30" y="522.15" font-size="6.8" text-anchor="start" transform="matrix(1 0.001 0 1 0 -0.4083)">CDC14A</text>
<text x="421.00" y="530.15" font-size="6.8" text-anchor="start" transform="matrix(1 0.001 0 1 0 -0.4210)">MCM3</text>
<text x="429.80" y="538.25" font-size="6.8" text-anchor="start" transform="matrix(1 0.001 0 1 0 -0.4298)">CDC25B</text>
<text x="467.50" y="538.25" font-size="6.8" text-anchor="start" transform="matrix(1 0.001 0 1 0 -0.4675)">Rb</text>
<text x="435.90" y="547.25" font-size="6.8" text-anchor="start" transform="matrix(1 0.001 0 1 0 -0.4359)">MCM7</text>
<text x="460.80" y="547.05" font-size="6.8" text-anchor="start" transform="matrix(1 0.001 0 1 0 -0.4608)">CDC20</text>
<text x="440.60" y="555.25" font-size="6.8" text-anchor="start" transform="matrix(1 0.001 0 1 0 -0.4406)">Chk2</text>
<text x="474.20" y="555.25" font-size="6.8" text-anchor="start" transform="matrix(1 0.001 0 1 0 -0.4742)">p300</text>
<text x="443.80" y="563.85" font-size="6.8" text-anchor="start" transform="matrix(1 0.001 0 1 0 -0.4438)">WEE1</text>
<text x="472.40" y="563.85" font-size="6.8" text-anchor="start" transform="matrix(1 0.001 0 1 0 -0.4724)">RAD21</text>
<text x="446.80" y="572.15" font-size="6.8" text-anchor="start" transform="matrix(1 0.001 0 1 0 -0.4468)">MCM2</text>
<text x="477.70" y="581.05" font-size="6.8" text-anchor="start" transform="matrix(1 0.001 0 1 0 -0.4777)">ORC1L</text>
<text x="450.50" y="588.65" font-size="6.8" text-anchor="start" transform="matrix(1 0.001 0 1 0 -0.4505)">CDC25A</text>
<text x="451.90" y="596.65" font-size="6.8" text-anchor="start" transform="matrix(1 0.001 0 1 0 -0.4519)">CBP</text>
<text x="478.80" y="596.65" font-size="6.8" text-anchor="start" transform="matrix(1 0.001 0 1 0 -0.4788)">SMAD2</text>
<text x="453.20" y="604.75" font-size="6.8" text-anchor="start" transform="matrix(1 0.001 0 1 0 -0.4532)">APC7</text>
<text x="482.90" y="608.25" font-size="6.8" text-anchor="start" transform="matrix(1 0.001 0 1 0 -0.4829)">PLK1</text>
<text x="449.20" y="612.85" font-size="6.8" text-anchor="start" transform="matrix(1 0.001 0 1 0 -0.4492)">TFDP2</text>
<text x="443.80" y="621.15" font-size="6.8" text-anchor="start" transform="matrix(1 0.001 0 1 0 -0.4438)">Separin</text>
<text x="479.10" y="621.15" font-size="6.8" text-anchor="start" transform="matrix(1 0.001 0 1 0 -0.4791)">RBX1</text>
<text x="440.60" y="629.25" font-size="6.8" text-anchor="start" transform="matrix(1 0.001 0 1 0 -0.4406)">BUB1</text>
<text x="473.40" y="629.25" font-size="6.8" text-anchor="start" transform="matrix(1 0.001 0 1 0 -0.4734)">BUB3</text>
<text x="435.20" y="637.85" font-size="6.8" text-anchor="start" transform="matrix(1 0.001 0 1 0 -0.4352)">CDC25C</text>
<text x="472.40" y="637.85" font-size="6.8" text-anchor="start" transform="matrix(1 0.001 0 1 0 -0.4724)">CBP</text>
<text x="429.80" y="646.45" font-size="6.8" text-anchor="start" transform="matrix(1 0.001 0 1 0 -0.4298)">14-3-3 eta</text>
<text x="465.60" y="646.45" font-size="6.8" text-anchor="start" transform="matrix(1 0.001 0 1 0 -0.4656)">ABL</text>
<text x="421.00" y="655.35" font-size="6.8" text-anchor="start" transform="matrix(1 0.001 0 1 0 -0.4210)">Chk1</text>
<text x="443.80" y="655.35" font-size="6.8" text-anchor="start" transform="matrix(1 0.001 0 1 0 -0.4438)">CDC23</text>
<text x="408.80" y="663.45" font-size="6.8" text-anchor="start" transform="matrix(1 0.001 0 1 0 -0.4088)">14-3-3 epsilon</text>
<text x="448.7" y="581.85" font-size="6.8" transform="matrix(1 0.001 0 1 0 -0.4487)">p27<tspan font-size="4.2" dy="-2.6">Kip1</tspan></text>
<rect x="0" y="0" width="520" height="1.4" fill="#000"/><rect x="0" y="0" width="1.4" height="677" fill="#000"/><rect x="518.4" y="0" width="1.6" height="677" fill="#000"/><rect x="0" y="675.3" width="520" height="1.7" fill="#000"/>
</svg>
</body></html>
